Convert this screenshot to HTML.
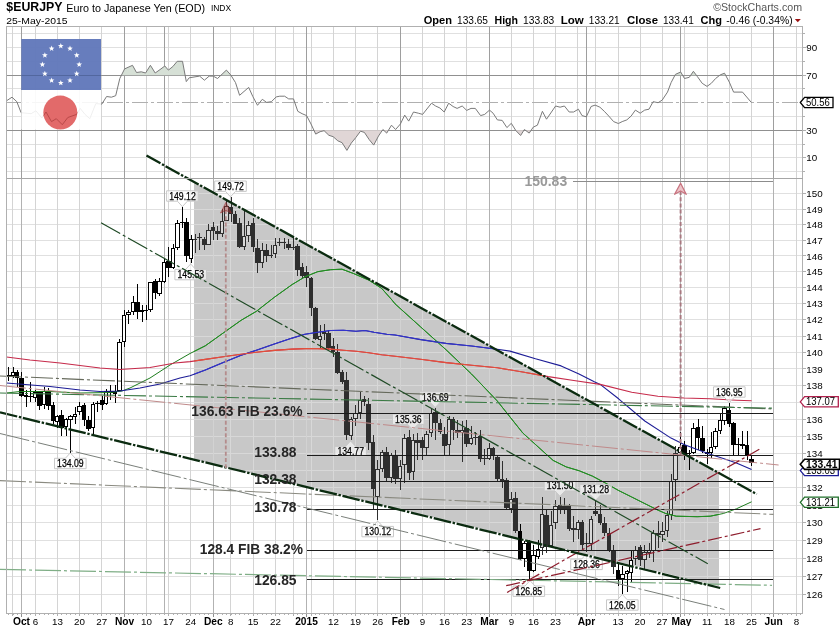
<!DOCTYPE html>
<html lang="en"><head><meta charset="utf-8"><title>$EURJPY Euro to Japanese Yen (EOD)</title>
<style>html,body{margin:0;padding:0;background:#fff;}body{width:840px;height:626px;overflow:hidden;}svg{display:block;font-family:"Liberation Sans", Arial, sans-serif;}text{white-space:pre;}</style></head><body>
<svg width="840" height="626" viewBox="0 0 840 626">
<rect x="0" y="0" width="840" height="626" fill="#ffffff"/>
<defs><clipPath id="cp"><polygon points="194.0,181.9 719.0,473.1 719.0,586.2 194.0,459.6"/></clipPath>
<clipPath id="plot"><rect x="0" y="27" width="803" height="587"/></clipPath></defs>
<g stroke-width="1" shape-rendering="crispEdges">
<line x1="6.5" y1="594.5" x2="802.5" y2="594.5" stroke="#e0e0e0"/>
<line x1="6.5" y1="576.5" x2="802.5" y2="576.5" stroke="#e0e0e0"/>
<line x1="6.5" y1="558.5" x2="802.5" y2="558.5" stroke="#e0e0e0"/>
<line x1="6.5" y1="540.5" x2="802.5" y2="540.5" stroke="#e0e0e0"/>
<line x1="6.5" y1="522.5" x2="802.5" y2="522.5" stroke="#e0e0e0"/>
<line x1="6.5" y1="505.5" x2="802.5" y2="505.5" stroke="#e0e0e0"/>
<line x1="6.5" y1="487.5" x2="802.5" y2="487.5" stroke="#e0e0e0"/>
<line x1="6.5" y1="470.5" x2="802.5" y2="470.5" stroke="#e0e0e0"/>
<line x1="6.5" y1="453.5" x2="802.5" y2="453.5" stroke="#e0e0e0"/>
<line x1="6.5" y1="436.5" x2="802.5" y2="436.5" stroke="#e0e0e0"/>
<line x1="6.5" y1="419.5" x2="802.5" y2="419.5" stroke="#e0e0e0"/>
<line x1="6.5" y1="402.5" x2="802.5" y2="402.5" stroke="#e0e0e0"/>
<line x1="6.5" y1="385.5" x2="802.5" y2="385.5" stroke="#e0e0e0"/>
<line x1="6.5" y1="368.5" x2="802.5" y2="368.5" stroke="#e0e0e0"/>
<line x1="6.5" y1="352.5" x2="802.5" y2="352.5" stroke="#e0e0e0"/>
<line x1="6.5" y1="336.5" x2="802.5" y2="336.5" stroke="#e0e0e0"/>
<line x1="6.5" y1="319.5" x2="802.5" y2="319.5" stroke="#e0e0e0"/>
<line x1="6.5" y1="303.5" x2="802.5" y2="303.5" stroke="#e0e0e0"/>
<line x1="6.5" y1="287.5" x2="802.5" y2="287.5" stroke="#e0e0e0"/>
<line x1="6.5" y1="271.5" x2="802.5" y2="271.5" stroke="#e0e0e0"/>
<line x1="6.5" y1="255.5" x2="802.5" y2="255.5" stroke="#e0e0e0"/>
<line x1="6.5" y1="240.5" x2="802.5" y2="240.5" stroke="#e0e0e0"/>
<line x1="6.5" y1="224.5" x2="802.5" y2="224.5" stroke="#e0e0e0"/>
<line x1="6.5" y1="209.5" x2="802.5" y2="209.5" stroke="#e0e0e0"/>
<line x1="6.5" y1="193.5" x2="802.5" y2="193.5" stroke="#e0e0e0"/>
<line x1="6.5" y1="47.5" x2="802.5" y2="47.5" stroke="#e0e0e0"/>
<line x1="6.5" y1="61.5" x2="802.5" y2="61.5" stroke="#e0e0e0"/>
<line x1="6.5" y1="88.5" x2="802.5" y2="88.5" stroke="#e0e0e0"/>
<line x1="6.5" y1="116.5" x2="802.5" y2="116.5" stroke="#e0e0e0"/>
<line x1="6.5" y1="144.5" x2="802.5" y2="144.5" stroke="#e0e0e0"/>
<line x1="6.5" y1="157.5" x2="802.5" y2="157.5" stroke="#e0e0e0"/>
<line x1="6.5" y1="171.5" x2="802.5" y2="171.5" stroke="#e0e0e0"/>
<line x1="6.5" y1="33.5" x2="802.5" y2="33.5" stroke="#e0e0e0"/>
<line x1="12.5" y1="26.5" x2="12.5" y2="613.5" stroke="#d4d4d4"/>
<line x1="35.5" y1="26.5" x2="35.5" y2="613.5" stroke="#d4d4d4"/>
<line x1="57.5" y1="26.5" x2="57.5" y2="613.5" stroke="#d4d4d4"/>
<line x1="79.5" y1="26.5" x2="79.5" y2="613.5" stroke="#d4d4d4"/>
<line x1="101.5" y1="26.5" x2="101.5" y2="613.5" stroke="#d4d4d4"/>
<line x1="146.5" y1="26.5" x2="146.5" y2="613.5" stroke="#d4d4d4"/>
<line x1="168.5" y1="26.5" x2="168.5" y2="613.5" stroke="#d4d4d4"/>
<line x1="190.5" y1="26.5" x2="190.5" y2="613.5" stroke="#d4d4d4"/>
<line x1="230.5" y1="26.5" x2="230.5" y2="613.5" stroke="#d4d4d4"/>
<line x1="253.5" y1="26.5" x2="253.5" y2="613.5" stroke="#d4d4d4"/>
<line x1="275.5" y1="26.5" x2="275.5" y2="613.5" stroke="#d4d4d4"/>
<line x1="293.5" y1="26.5" x2="293.5" y2="613.5" stroke="#d4d4d4"/>
<line x1="311.5" y1="26.5" x2="311.5" y2="613.5" stroke="#d4d4d4"/>
<line x1="333.5" y1="26.5" x2="333.5" y2="613.5" stroke="#d4d4d4"/>
<line x1="355.5" y1="26.5" x2="355.5" y2="613.5" stroke="#d4d4d4"/>
<line x1="377.5" y1="26.5" x2="377.5" y2="613.5" stroke="#d4d4d4"/>
<line x1="422.5" y1="26.5" x2="422.5" y2="613.5" stroke="#d4d4d4"/>
<line x1="444.5" y1="26.5" x2="444.5" y2="613.5" stroke="#d4d4d4"/>
<line x1="466.5" y1="26.5" x2="466.5" y2="613.5" stroke="#d4d4d4"/>
<line x1="511.5" y1="26.5" x2="511.5" y2="613.5" stroke="#d4d4d4"/>
<line x1="533.5" y1="26.5" x2="533.5" y2="613.5" stroke="#d4d4d4"/>
<line x1="555.5" y1="26.5" x2="555.5" y2="613.5" stroke="#d4d4d4"/>
<line x1="577.5" y1="26.5" x2="577.5" y2="613.5" stroke="#d4d4d4"/>
<line x1="595.5" y1="26.5" x2="595.5" y2="613.5" stroke="#d4d4d4"/>
<line x1="618.5" y1="26.5" x2="618.5" y2="613.5" stroke="#d4d4d4"/>
<line x1="640.5" y1="26.5" x2="640.5" y2="613.5" stroke="#d4d4d4"/>
<line x1="662.5" y1="26.5" x2="662.5" y2="613.5" stroke="#d4d4d4"/>
<line x1="684.5" y1="26.5" x2="684.5" y2="613.5" stroke="#d4d4d4"/>
<line x1="707.5" y1="26.5" x2="707.5" y2="613.5" stroke="#d4d4d4"/>
<line x1="729.5" y1="26.5" x2="729.5" y2="613.5" stroke="#d4d4d4"/>
<line x1="751.5" y1="26.5" x2="751.5" y2="613.5" stroke="#d4d4d4"/>
<line x1="796.5" y1="26.5" x2="796.5" y2="613.5" stroke="#d4d4d4"/>
<line x1="21.5" y1="26.5" x2="21.5" y2="178.5" stroke="#9e9e9e"/>
<line x1="21.5" y1="178.5" x2="21.5" y2="613.5" stroke="#b2b2b2"/>
<line x1="124.5" y1="26.5" x2="124.5" y2="178.5" stroke="#9e9e9e"/>
<line x1="124.5" y1="178.5" x2="124.5" y2="613.5" stroke="#b2b2b2"/>
<line x1="164.5" y1="26.5" x2="164.5" y2="178.5" stroke="#9e9e9e"/>
<line x1="164.5" y1="178.5" x2="164.5" y2="613.5" stroke="#b2b2b2"/>
<line x1="213.5" y1="26.5" x2="213.5" y2="178.5" stroke="#9e9e9e"/>
<line x1="213.5" y1="178.5" x2="213.5" y2="613.5" stroke="#b2b2b2"/>
<line x1="306.5" y1="26.5" x2="306.5" y2="178.5" stroke="#9e9e9e"/>
<line x1="306.5" y1="178.5" x2="306.5" y2="613.5" stroke="#b2b2b2"/>
<line x1="400.5" y1="26.5" x2="400.5" y2="178.5" stroke="#9e9e9e"/>
<line x1="400.5" y1="178.5" x2="400.5" y2="613.5" stroke="#b2b2b2"/>
<line x1="489.5" y1="26.5" x2="489.5" y2="178.5" stroke="#9e9e9e"/>
<line x1="489.5" y1="178.5" x2="489.5" y2="613.5" stroke="#b2b2b2"/>
<line x1="586.5" y1="26.5" x2="586.5" y2="178.5" stroke="#9e9e9e"/>
<line x1="586.5" y1="178.5" x2="586.5" y2="613.5" stroke="#b2b2b2"/>
<line x1="680.5" y1="26.5" x2="680.5" y2="178.5" stroke="#9e9e9e"/>
<line x1="680.5" y1="178.5" x2="680.5" y2="613.5" stroke="#b2b2b2"/>
<line x1="773.5" y1="26.5" x2="773.5" y2="178.5" stroke="#9e9e9e"/>
<line x1="773.5" y1="178.5" x2="773.5" y2="613.5" stroke="#b2b2b2"/>
</g>
<g stroke="#909090" stroke-width="1" shape-rendering="crispEdges">
<line x1="6.5" y1="75.5" x2="802.5" y2="75.5"/>
<line x1="6.5" y1="130.5" x2="802.5" y2="130.5"/>
</g>
<line x1="6.5" y1="102.5" x2="802.5" y2="102.5" stroke="#b0b0b0" stroke-width="1" stroke-dasharray="16 3 3 3" shape-rendering="crispEdges"/>
<polygon points="121.4,75.2 124.6,68.9 132.5,65.3 136.5,72.5 141.3,71.8 145.6,73.0 150.4,65.3 155.2,73.0 160.0,69.6 164.8,66.0 168.4,70.1 172.9,66.5 177.2,61.3 182.5,61.3 185.1,75.2" fill="#d6e0d6"/>
<polygon points="221.0,75.2 226.4,70.1 230.7,74.9 230.9,75.2" fill="#d6e0d6"/>
<polygon points="675.0,75.2 675.4,74.4 680.7,72.0 682.5,75.2" fill="#d6e0d6"/>
<polygon points="690.7,75.2 693.4,71.3 696.4,75.2" fill="#d6e0d6"/>
<polygon points="719.8,75.2 720.2,74.9 724.5,73.2 725.6,75.2" fill="#d6e0d6"/>
<polygon points="314.0,130.3 315.7,134.1 320.1,131.7 324.1,130.7 328.9,135.3 333.2,136.7 337.8,140.8 342.1,142.7 346.9,150.4 351.2,143.2 355.7,137.7 360.5,131.2 364.4,132.4 369.2,139.6 373.7,145.1 378.5,136.0 382.3,130.3" fill="#e0d6d6"/>
<polygon points="383.7,130.3 386.7,133.1 388.4,130.3" fill="#e0d6d6"/>
<polygon points="515.7,130.3 515.8,130.5 520.6,135.5 523.9,130.3" fill="#e0d6d6"/>
<polygon points="525.5,130.3 529.2,133.1 531.1,130.3" fill="#e0d6d6"/>
<polyline points="6.5,100.8 12.0,97.2 16.8,101.7 21.1,112.7 31.1,113.7 35.9,110.8 41.9,118.0 46.0,112.0 51.5,121.6 56.3,118.7 62.3,124.7 67.8,117.5 76.6,114.4 80.2,108.4 85.0,114.4 89.8,118.7 95.8,103.6 101.8,104.1 106.6,96.5 111.4,97.2 115.7,95.7 119.8,78.5 124.6,68.9 132.5,65.3 136.5,72.5 141.3,71.8 145.6,73.0 150.4,65.3 155.2,73.0 160.0,69.6 164.8,66.0 168.4,70.1 172.9,66.5 177.2,61.3 182.5,61.3 186.3,81.6 189.2,77.8 199.6,76.1 204.4,80.2 209.2,76.1 213.2,76.1 217.5,78.5 226.4,70.1 230.7,74.9 235.5,82.6 239.6,95.3 248.7,87.4 252.8,96.5 257.5,105.3 262.3,99.3 266.6,102.4 271.4,101.7 276.2,96.9 279.8,96.2 284.6,96.2 288.7,98.9 293.5,98.9 297.8,111.3 302.1,113.7 306.6,115.6 311.0,124.0 315.7,134.1 320.1,131.7 324.1,130.7 328.9,135.3 333.2,136.7 337.8,140.8 342.1,142.7 346.9,150.4 351.2,143.2 355.7,137.7 360.5,131.2 364.4,132.4 369.2,139.6 373.7,145.1 378.5,136.0 382.9,129.5 386.7,133.1 391.5,125.2 395.6,129.5 400.4,124.0 404.7,115.1 408.7,121.1 413.5,112.0 418.3,113.2 422.6,114.4 431.5,103.2 435.6,106.0 439.9,108.0 444.2,112.0 448.7,103.2 453.1,106.5 457.1,108.4 462.2,106.0 466.7,110.4 471.0,108.4 475.3,108.4 480.6,115.6 484.7,114.4 489.5,110.1 493.1,113.2 497.4,119.9 502.2,120.4 506.9,127.6 511.3,123.3 515.8,130.5 520.6,135.5 524.4,129.5 529.2,133.1 533.3,127.1 537.4,125.2 542.4,111.3 546.5,119.2 555.6,106.0 560.1,107.2 564.4,106.0 569.2,112.0 573.6,112.0 578.4,109.2 582.0,115.6 586.3,116.8 591.1,106.5 595.1,105.1 599.9,107.2 604.3,111.3 608.8,116.1 613.6,121.6 618.4,123.5 622.2,121.6 626.8,119.9 631.1,116.1 635.4,110.1 640.2,113.2 644.7,110.1 649.0,109.2 653.1,101.7 658.1,102.7 662.2,100.1 667.5,92.1 671.1,82.6 675.4,74.4 680.7,72.0 684.5,78.5 689.3,77.3 693.4,71.3 697.4,76.6 702.2,83.3 707.0,86.4 711.3,83.3 715.6,78.5 720.2,74.9 724.5,73.2 729.3,82.1 733.6,92.1 742.5,92.1 751.3,102.4" fill="none" stroke="#7a7a7a" stroke-width="1" stroke-linejoin="round"/>
<polygon points="194.0,181.9 719.0,473.1 719.0,586.2 194.0,459.6" fill="#c8c8c8"/>
<g clip-path="url(#cp)">
<g stroke-width="1" shape-rendering="crispEdges">
<line x1="6.5" y1="594.5" x2="802.5" y2="594.5" stroke="#d8d8d8"/>
<line x1="6.5" y1="576.5" x2="802.5" y2="576.5" stroke="#d8d8d8"/>
<line x1="6.5" y1="558.5" x2="802.5" y2="558.5" stroke="#d8d8d8"/>
<line x1="6.5" y1="540.5" x2="802.5" y2="540.5" stroke="#d8d8d8"/>
<line x1="6.5" y1="522.5" x2="802.5" y2="522.5" stroke="#d8d8d8"/>
<line x1="6.5" y1="505.5" x2="802.5" y2="505.5" stroke="#d8d8d8"/>
<line x1="6.5" y1="487.5" x2="802.5" y2="487.5" stroke="#d8d8d8"/>
<line x1="6.5" y1="470.5" x2="802.5" y2="470.5" stroke="#d8d8d8"/>
<line x1="6.5" y1="453.5" x2="802.5" y2="453.5" stroke="#d8d8d8"/>
<line x1="6.5" y1="436.5" x2="802.5" y2="436.5" stroke="#d8d8d8"/>
<line x1="6.5" y1="419.5" x2="802.5" y2="419.5" stroke="#d8d8d8"/>
<line x1="6.5" y1="402.5" x2="802.5" y2="402.5" stroke="#d8d8d8"/>
<line x1="6.5" y1="385.5" x2="802.5" y2="385.5" stroke="#d8d8d8"/>
<line x1="6.5" y1="368.5" x2="802.5" y2="368.5" stroke="#d8d8d8"/>
<line x1="6.5" y1="352.5" x2="802.5" y2="352.5" stroke="#d8d8d8"/>
<line x1="6.5" y1="336.5" x2="802.5" y2="336.5" stroke="#d8d8d8"/>
<line x1="6.5" y1="319.5" x2="802.5" y2="319.5" stroke="#d8d8d8"/>
<line x1="6.5" y1="303.5" x2="802.5" y2="303.5" stroke="#d8d8d8"/>
<line x1="6.5" y1="287.5" x2="802.5" y2="287.5" stroke="#d8d8d8"/>
<line x1="6.5" y1="271.5" x2="802.5" y2="271.5" stroke="#d8d8d8"/>
<line x1="6.5" y1="255.5" x2="802.5" y2="255.5" stroke="#d8d8d8"/>
<line x1="6.5" y1="240.5" x2="802.5" y2="240.5" stroke="#d8d8d8"/>
<line x1="6.5" y1="224.5" x2="802.5" y2="224.5" stroke="#d8d8d8"/>
<line x1="6.5" y1="209.5" x2="802.5" y2="209.5" stroke="#d8d8d8"/>
<line x1="6.5" y1="193.5" x2="802.5" y2="193.5" stroke="#d8d8d8"/>
<line x1="6.5" y1="47.5" x2="802.5" y2="47.5" stroke="#d8d8d8"/>
<line x1="6.5" y1="61.5" x2="802.5" y2="61.5" stroke="#d8d8d8"/>
<line x1="6.5" y1="88.5" x2="802.5" y2="88.5" stroke="#d8d8d8"/>
<line x1="6.5" y1="116.5" x2="802.5" y2="116.5" stroke="#d8d8d8"/>
<line x1="6.5" y1="144.5" x2="802.5" y2="144.5" stroke="#d8d8d8"/>
<line x1="6.5" y1="157.5" x2="802.5" y2="157.5" stroke="#d8d8d8"/>
<line x1="6.5" y1="171.5" x2="802.5" y2="171.5" stroke="#d8d8d8"/>
<line x1="6.5" y1="33.5" x2="802.5" y2="33.5" stroke="#d8d8d8"/>
<line x1="12.5" y1="26.5" x2="12.5" y2="613.5" stroke="#d8d8d8"/>
<line x1="35.5" y1="26.5" x2="35.5" y2="613.5" stroke="#d8d8d8"/>
<line x1="57.5" y1="26.5" x2="57.5" y2="613.5" stroke="#d8d8d8"/>
<line x1="79.5" y1="26.5" x2="79.5" y2="613.5" stroke="#d8d8d8"/>
<line x1="101.5" y1="26.5" x2="101.5" y2="613.5" stroke="#d8d8d8"/>
<line x1="146.5" y1="26.5" x2="146.5" y2="613.5" stroke="#d8d8d8"/>
<line x1="168.5" y1="26.5" x2="168.5" y2="613.5" stroke="#d8d8d8"/>
<line x1="190.5" y1="26.5" x2="190.5" y2="613.5" stroke="#d8d8d8"/>
<line x1="230.5" y1="26.5" x2="230.5" y2="613.5" stroke="#d8d8d8"/>
<line x1="253.5" y1="26.5" x2="253.5" y2="613.5" stroke="#d8d8d8"/>
<line x1="275.5" y1="26.5" x2="275.5" y2="613.5" stroke="#d8d8d8"/>
<line x1="293.5" y1="26.5" x2="293.5" y2="613.5" stroke="#d8d8d8"/>
<line x1="311.5" y1="26.5" x2="311.5" y2="613.5" stroke="#d8d8d8"/>
<line x1="333.5" y1="26.5" x2="333.5" y2="613.5" stroke="#d8d8d8"/>
<line x1="355.5" y1="26.5" x2="355.5" y2="613.5" stroke="#d8d8d8"/>
<line x1="377.5" y1="26.5" x2="377.5" y2="613.5" stroke="#d8d8d8"/>
<line x1="422.5" y1="26.5" x2="422.5" y2="613.5" stroke="#d8d8d8"/>
<line x1="444.5" y1="26.5" x2="444.5" y2="613.5" stroke="#d8d8d8"/>
<line x1="466.5" y1="26.5" x2="466.5" y2="613.5" stroke="#d8d8d8"/>
<line x1="511.5" y1="26.5" x2="511.5" y2="613.5" stroke="#d8d8d8"/>
<line x1="533.5" y1="26.5" x2="533.5" y2="613.5" stroke="#d8d8d8"/>
<line x1="555.5" y1="26.5" x2="555.5" y2="613.5" stroke="#d8d8d8"/>
<line x1="577.5" y1="26.5" x2="577.5" y2="613.5" stroke="#d8d8d8"/>
<line x1="595.5" y1="26.5" x2="595.5" y2="613.5" stroke="#d8d8d8"/>
<line x1="618.5" y1="26.5" x2="618.5" y2="613.5" stroke="#d8d8d8"/>
<line x1="640.5" y1="26.5" x2="640.5" y2="613.5" stroke="#d8d8d8"/>
<line x1="662.5" y1="26.5" x2="662.5" y2="613.5" stroke="#d8d8d8"/>
<line x1="684.5" y1="26.5" x2="684.5" y2="613.5" stroke="#d8d8d8"/>
<line x1="707.5" y1="26.5" x2="707.5" y2="613.5" stroke="#d8d8d8"/>
<line x1="729.5" y1="26.5" x2="729.5" y2="613.5" stroke="#d8d8d8"/>
<line x1="751.5" y1="26.5" x2="751.5" y2="613.5" stroke="#d8d8d8"/>
<line x1="796.5" y1="26.5" x2="796.5" y2="613.5" stroke="#d8d8d8"/>
<line x1="21.5" y1="26.5" x2="21.5" y2="613.5" stroke="#d2d2d2"/>
<line x1="124.5" y1="26.5" x2="124.5" y2="613.5" stroke="#d2d2d2"/>
<line x1="164.5" y1="26.5" x2="164.5" y2="613.5" stroke="#d2d2d2"/>
<line x1="213.5" y1="26.5" x2="213.5" y2="613.5" stroke="#d2d2d2"/>
<line x1="306.5" y1="26.5" x2="306.5" y2="613.5" stroke="#d2d2d2"/>
<line x1="400.5" y1="26.5" x2="400.5" y2="613.5" stroke="#d2d2d2"/>
<line x1="489.5" y1="26.5" x2="489.5" y2="613.5" stroke="#d2d2d2"/>
<line x1="586.5" y1="26.5" x2="586.5" y2="613.5" stroke="#d2d2d2"/>
<line x1="680.5" y1="26.5" x2="680.5" y2="613.5" stroke="#d2d2d2"/>
<line x1="773.5" y1="26.5" x2="773.5" y2="613.5" stroke="#d2d2d2"/>
</g>
</g>
<g shape-rendering="crispEdges">
<line x1="8.5" y1="367" x2="8.5" y2="381" stroke="#000000" stroke-width="1"/>
<rect x="6" y="375" width="5" height="2" fill="#000000"/>
<line x1="13.5" y1="367" x2="13.5" y2="378" stroke="#000000" stroke-width="1"/>
<rect x="11" y="372" width="4" height="4" fill="#000000"/>
<rect x="12" y="373" width="2" height="2" fill="#ffffff"/>
<line x1="17.5" y1="370" x2="17.5" y2="387" stroke="#000000" stroke-width="1"/>
<rect x="15" y="372" width="4" height="6" fill="#000000"/>
<line x1="21.5" y1="372" x2="21.5" y2="397" stroke="#000000" stroke-width="1"/>
<rect x="19" y="378" width="5" height="18" fill="#000000"/>
<line x1="26.5" y1="390" x2="26.5" y2="407" stroke="#000000" stroke-width="1"/>
<rect x="24" y="395" width="4" height="2" fill="#000000"/>
<line x1="30.5" y1="382" x2="30.5" y2="402" stroke="#000000" stroke-width="1"/>
<rect x="28" y="396" width="5" height="1" fill="#000000"/>
<line x1="35.5" y1="390" x2="35.5" y2="402" stroke="#000000" stroke-width="1"/>
<rect x="33" y="392" width="4" height="6" fill="#000000"/>
<rect x="34" y="393" width="2" height="4" fill="#ffffff"/>
<line x1="39.5" y1="391" x2="39.5" y2="410" stroke="#000000" stroke-width="1"/>
<rect x="37" y="392" width="5" height="14" fill="#000000"/>
<line x1="44.5" y1="387" x2="44.5" y2="409" stroke="#000000" stroke-width="1"/>
<rect x="42" y="391" width="4" height="14" fill="#000000"/>
<rect x="43" y="392" width="2" height="12" fill="#ffffff"/>
<line x1="48.5" y1="388" x2="48.5" y2="410" stroke="#000000" stroke-width="1"/>
<rect x="46" y="391" width="5" height="15" fill="#000000"/>
<line x1="53.5" y1="402" x2="53.5" y2="424" stroke="#000000" stroke-width="1"/>
<rect x="51" y="405" width="4" height="16" fill="#000000"/>
<line x1="57.5" y1="415" x2="57.5" y2="428" stroke="#000000" stroke-width="1"/>
<rect x="55" y="416" width="4" height="6" fill="#000000"/>
<rect x="56" y="417" width="2" height="4" fill="#ffffff"/>
<line x1="61.5" y1="410" x2="61.5" y2="436" stroke="#000000" stroke-width="1"/>
<rect x="59" y="415" width="5" height="13" fill="#000000"/>
<line x1="66.5" y1="418" x2="66.5" y2="436" stroke="#000000" stroke-width="1"/>
<rect x="64" y="419" width="4" height="8" fill="#000000"/>
<rect x="65" y="420" width="2" height="6" fill="#ffffff"/>
<line x1="70.5" y1="415" x2="70.5" y2="453" stroke="#000000" stroke-width="1"/>
<rect x="68" y="416" width="5" height="4" fill="#000000"/>
<rect x="69" y="417" width="3" height="2" fill="#ffffff"/>
<line x1="75.5" y1="407" x2="75.5" y2="424" stroke="#000000" stroke-width="1"/>
<rect x="73" y="414" width="4" height="3" fill="#000000"/>
<rect x="74" y="415" width="2" height="1" fill="#ffffff"/>
<line x1="79.5" y1="402" x2="79.5" y2="415" stroke="#000000" stroke-width="1"/>
<rect x="77" y="406" width="5" height="6" fill="#000000"/>
<rect x="78" y="407" width="3" height="4" fill="#ffffff"/>
<line x1="84.5" y1="403" x2="84.5" y2="426" stroke="#000000" stroke-width="1"/>
<rect x="82" y="405" width="4" height="15" fill="#000000"/>
<line x1="88.5" y1="416" x2="88.5" y2="431" stroke="#000000" stroke-width="1"/>
<rect x="86" y="420" width="5" height="9" fill="#000000"/>
<line x1="93.5" y1="402" x2="93.5" y2="435" stroke="#000000" stroke-width="1"/>
<rect x="91" y="404" width="4" height="24" fill="#000000"/>
<rect x="92" y="405" width="2" height="22" fill="#ffffff"/>
<line x1="97.5" y1="401" x2="97.5" y2="412" stroke="#000000" stroke-width="1"/>
<rect x="95" y="403" width="5" height="1" fill="#000000"/>
<line x1="102.5" y1="396" x2="102.5" y2="410" stroke="#000000" stroke-width="1"/>
<rect x="100" y="400" width="4" height="5" fill="#000000"/>
<line x1="106.5" y1="389" x2="106.5" y2="405" stroke="#000000" stroke-width="1"/>
<rect x="104" y="391" width="4" height="13" fill="#000000"/>
<rect x="105" y="392" width="2" height="11" fill="#ffffff"/>
<line x1="110.5" y1="385" x2="110.5" y2="400" stroke="#000000" stroke-width="1"/>
<rect x="108" y="391" width="5" height="2" fill="#000000"/>
<line x1="115.5" y1="385" x2="115.5" y2="403" stroke="#000000" stroke-width="1"/>
<rect x="113" y="391" width="4" height="3" fill="#000000"/>
<line x1="119.5" y1="339" x2="119.5" y2="391" stroke="#000000" stroke-width="1"/>
<rect x="117" y="342" width="5" height="49" fill="#000000"/>
<rect x="118" y="343" width="3" height="47" fill="#ffffff"/>
<line x1="124.5" y1="310" x2="124.5" y2="347" stroke="#000000" stroke-width="1"/>
<rect x="122" y="315" width="4" height="27" fill="#000000"/>
<rect x="123" y="316" width="2" height="25" fill="#ffffff"/>
<line x1="128.5" y1="310" x2="128.5" y2="324" stroke="#000000" stroke-width="1"/>
<rect x="126" y="312" width="5" height="3" fill="#000000"/>
<rect x="127" y="313" width="3" height="1" fill="#ffffff"/>
<line x1="133.5" y1="296" x2="133.5" y2="315" stroke="#000000" stroke-width="1"/>
<rect x="131" y="302" width="4" height="10" fill="#000000"/>
<rect x="132" y="303" width="2" height="8" fill="#ffffff"/>
<line x1="137.5" y1="284" x2="137.5" y2="319" stroke="#000000" stroke-width="1"/>
<rect x="135" y="302" width="5" height="10" fill="#000000"/>
<line x1="142.5" y1="305" x2="142.5" y2="322" stroke="#000000" stroke-width="1"/>
<rect x="140" y="310" width="4" height="2" fill="#000000"/>
<line x1="146.5" y1="305" x2="146.5" y2="320" stroke="#000000" stroke-width="1"/>
<rect x="144" y="310" width="4" height="1" fill="#000000"/>
<line x1="150.5" y1="282" x2="150.5" y2="312" stroke="#000000" stroke-width="1"/>
<rect x="148" y="282" width="5" height="28" fill="#000000"/>
<rect x="149" y="283" width="3" height="26" fill="#ffffff"/>
<line x1="155.5" y1="279" x2="155.5" y2="299" stroke="#000000" stroke-width="1"/>
<rect x="153" y="281" width="4" height="12" fill="#000000"/>
<line x1="159.5" y1="278" x2="159.5" y2="296" stroke="#000000" stroke-width="1"/>
<rect x="157" y="281" width="5" height="13" fill="#000000"/>
<rect x="158" y="282" width="3" height="11" fill="#ffffff"/>
<line x1="164.5" y1="258" x2="164.5" y2="283" stroke="#000000" stroke-width="1"/>
<rect x="162" y="262" width="4" height="20" fill="#000000"/>
<rect x="163" y="263" width="2" height="18" fill="#ffffff"/>
<line x1="168.5" y1="247" x2="168.5" y2="277" stroke="#000000" stroke-width="1"/>
<rect x="166" y="261" width="5" height="7" fill="#000000"/>
<line x1="173.5" y1="244" x2="173.5" y2="269" stroke="#000000" stroke-width="1"/>
<rect x="171" y="248" width="4" height="20" fill="#000000"/>
<rect x="172" y="249" width="2" height="18" fill="#ffffff"/>
<line x1="177.5" y1="220" x2="177.5" y2="250" stroke="#000000" stroke-width="1"/>
<rect x="175" y="223" width="5" height="25" fill="#000000"/>
<rect x="176" y="224" width="3" height="23" fill="#ffffff"/>
<line x1="182.5" y1="207" x2="182.5" y2="228" stroke="#000000" stroke-width="1"/>
<rect x="180" y="222" width="4" height="1" fill="#000000"/>
<line x1="186.5" y1="218" x2="186.5" y2="262" stroke="#000000" stroke-width="1"/>
<rect x="184" y="222" width="5" height="34" fill="#000000"/>
<line x1="191.5" y1="235" x2="191.5" y2="263" stroke="#000000" stroke-width="1"/>
<rect x="189" y="239" width="4" height="20" fill="#000000"/>
<rect x="190" y="240" width="2" height="18" fill="#ffffff"/>
<line x1="195.5" y1="234" x2="195.5" y2="253" stroke="#2e2e2e" stroke-width="1"/>
<rect x="193" y="239" width="4" height="1" fill="#2e2e2e"/>
<line x1="199.5" y1="233" x2="199.5" y2="250" stroke="#2e2e2e" stroke-width="1"/>
<rect x="197" y="237" width="5" height="1" fill="#2e2e2e"/>
<line x1="204.5" y1="237" x2="204.5" y2="250" stroke="#2e2e2e" stroke-width="1"/>
<rect x="202" y="239" width="4" height="6" fill="#2e2e2e"/>
<line x1="208.5" y1="224" x2="208.5" y2="245" stroke="#2e2e2e" stroke-width="1"/>
<rect x="206" y="230" width="5" height="15" fill="#2e2e2e"/>
<rect x="207" y="231" width="3" height="13" fill="#d8d8d8"/>
<line x1="213.5" y1="222" x2="213.5" y2="240" stroke="#2e2e2e" stroke-width="1"/>
<rect x="211" y="227" width="4" height="4" fill="#2e2e2e"/>
<line x1="217.5" y1="226" x2="217.5" y2="240" stroke="#2e2e2e" stroke-width="1"/>
<rect x="215" y="231" width="5" height="3" fill="#2e2e2e"/>
<line x1="222.5" y1="209" x2="222.5" y2="237" stroke="#2e2e2e" stroke-width="1"/>
<rect x="220" y="221" width="4" height="13" fill="#2e2e2e"/>
<rect x="221" y="222" width="2" height="11" fill="#d8d8d8"/>
<line x1="226.5" y1="201" x2="226.5" y2="221" stroke="#2e2e2e" stroke-width="1"/>
<rect x="224" y="206" width="5" height="15" fill="#2e2e2e"/>
<rect x="225" y="207" width="3" height="13" fill="#d8d8d8"/>
<line x1="231.5" y1="197" x2="231.5" y2="222" stroke="#2e2e2e" stroke-width="1"/>
<rect x="229" y="207" width="4" height="7" fill="#2e2e2e"/>
<line x1="235.5" y1="211" x2="235.5" y2="224" stroke="#2e2e2e" stroke-width="1"/>
<rect x="233" y="214" width="4" height="10" fill="#2e2e2e"/>
<line x1="239.5" y1="218" x2="239.5" y2="248" stroke="#2e2e2e" stroke-width="1"/>
<rect x="237" y="223" width="5" height="24" fill="#2e2e2e"/>
<line x1="244.5" y1="210" x2="244.5" y2="250" stroke="#2e2e2e" stroke-width="1"/>
<rect x="242" y="236" width="4" height="11" fill="#2e2e2e"/>
<rect x="243" y="237" width="2" height="9" fill="#d8d8d8"/>
<line x1="248.5" y1="221" x2="248.5" y2="242" stroke="#2e2e2e" stroke-width="1"/>
<rect x="246" y="225" width="5" height="11" fill="#2e2e2e"/>
<rect x="247" y="226" width="3" height="9" fill="#d8d8d8"/>
<line x1="253.5" y1="218" x2="253.5" y2="252" stroke="#2e2e2e" stroke-width="1"/>
<rect x="251" y="223" width="4" height="24" fill="#2e2e2e"/>
<line x1="257.5" y1="239" x2="257.5" y2="273" stroke="#2e2e2e" stroke-width="1"/>
<rect x="255" y="248" width="5" height="15" fill="#2e2e2e"/>
<line x1="262.5" y1="243" x2="262.5" y2="268" stroke="#2e2e2e" stroke-width="1"/>
<rect x="260" y="250" width="4" height="13" fill="#2e2e2e"/>
<rect x="261" y="251" width="2" height="11" fill="#d8d8d8"/>
<line x1="266.5" y1="244" x2="266.5" y2="262" stroke="#2e2e2e" stroke-width="1"/>
<rect x="264" y="250" width="5" height="6" fill="#2e2e2e"/>
<line x1="271.5" y1="245" x2="271.5" y2="258" stroke="#2e2e2e" stroke-width="1"/>
<rect x="269" y="255" width="4" height="1" fill="#2e2e2e"/>
<line x1="275.5" y1="238" x2="275.5" y2="258" stroke="#2e2e2e" stroke-width="1"/>
<rect x="273" y="245" width="4" height="9" fill="#2e2e2e"/>
<rect x="274" y="246" width="2" height="7" fill="#d8d8d8"/>
<line x1="279.5" y1="238" x2="279.5" y2="246" stroke="#2e2e2e" stroke-width="1"/>
<rect x="277" y="242" width="5" height="1" fill="#2e2e2e"/>
<line x1="284.5" y1="238" x2="284.5" y2="249" stroke="#2e2e2e" stroke-width="1"/>
<rect x="282" y="242" width="4" height="1" fill="#2e2e2e"/>
<line x1="288.5" y1="239" x2="288.5" y2="250" stroke="#2e2e2e" stroke-width="1"/>
<rect x="286" y="244" width="5" height="4" fill="#2e2e2e"/>
<line x1="293.5" y1="237" x2="293.5" y2="250" stroke="#2e2e2e" stroke-width="1"/>
<rect x="291" y="247" width="4" height="1" fill="#2e2e2e"/>
<line x1="297.5" y1="244" x2="297.5" y2="276" stroke="#2e2e2e" stroke-width="1"/>
<rect x="295" y="246" width="5" height="24" fill="#2e2e2e"/>
<line x1="302.5" y1="263" x2="302.5" y2="278" stroke="#2e2e2e" stroke-width="1"/>
<rect x="300" y="267" width="4" height="9" fill="#2e2e2e"/>
<line x1="306.5" y1="266" x2="306.5" y2="287" stroke="#2e2e2e" stroke-width="1"/>
<rect x="304" y="272" width="5" height="6" fill="#2e2e2e"/>
<line x1="311.5" y1="277" x2="311.5" y2="316" stroke="#2e2e2e" stroke-width="1"/>
<rect x="309" y="278" width="4" height="30" fill="#2e2e2e"/>
<line x1="315.5" y1="307" x2="315.5" y2="340" stroke="#2e2e2e" stroke-width="1"/>
<rect x="313" y="308" width="5" height="31" fill="#2e2e2e"/>
<line x1="320.5" y1="325" x2="320.5" y2="348" stroke="#2e2e2e" stroke-width="1"/>
<rect x="318" y="336" width="4" height="4" fill="#2e2e2e"/>
<rect x="319" y="337" width="2" height="2" fill="#d8d8d8"/>
<line x1="324.5" y1="324" x2="324.5" y2="340" stroke="#2e2e2e" stroke-width="1"/>
<rect x="322" y="331" width="4" height="3" fill="#2e2e2e"/>
<line x1="328.5" y1="330" x2="328.5" y2="350" stroke="#2e2e2e" stroke-width="1"/>
<rect x="326" y="333" width="5" height="15" fill="#2e2e2e"/>
<line x1="333.5" y1="338" x2="333.5" y2="357" stroke="#2e2e2e" stroke-width="1"/>
<rect x="331" y="346" width="4" height="6" fill="#2e2e2e"/>
<line x1="337.5" y1="344" x2="337.5" y2="374" stroke="#2e2e2e" stroke-width="1"/>
<rect x="335" y="352" width="5" height="21" fill="#2e2e2e"/>
<line x1="342.5" y1="370" x2="342.5" y2="384" stroke="#2e2e2e" stroke-width="1"/>
<rect x="340" y="372" width="4" height="10" fill="#2e2e2e"/>
<line x1="346.5" y1="372" x2="346.5" y2="440" stroke="#2e2e2e" stroke-width="1"/>
<rect x="344" y="380" width="5" height="55" fill="#2e2e2e"/>
<line x1="351.5" y1="417" x2="351.5" y2="440" stroke="#2e2e2e" stroke-width="1"/>
<rect x="349" y="419" width="4" height="17" fill="#2e2e2e"/>
<rect x="350" y="420" width="2" height="15" fill="#d8d8d8"/>
<line x1="355.5" y1="405" x2="355.5" y2="426" stroke="#2e2e2e" stroke-width="1"/>
<rect x="353" y="413" width="5" height="6" fill="#2e2e2e"/>
<rect x="354" y="414" width="3" height="4" fill="#d8d8d8"/>
<line x1="360.5" y1="392" x2="360.5" y2="419" stroke="#2e2e2e" stroke-width="1"/>
<rect x="358" y="400" width="4" height="13" fill="#2e2e2e"/>
<rect x="359" y="401" width="2" height="11" fill="#d8d8d8"/>
<line x1="364.5" y1="396" x2="364.5" y2="406" stroke="#2e2e2e" stroke-width="1"/>
<rect x="362" y="399" width="4" height="3" fill="#2e2e2e"/>
<line x1="368.5" y1="398" x2="368.5" y2="450" stroke="#2e2e2e" stroke-width="1"/>
<rect x="366" y="404" width="5" height="39" fill="#2e2e2e"/>
<line x1="373.5" y1="435" x2="373.5" y2="509" stroke="#2e2e2e" stroke-width="1"/>
<rect x="371" y="442" width="4" height="47" fill="#2e2e2e"/>
<line x1="377.5" y1="460" x2="377.5" y2="520" stroke="#2e2e2e" stroke-width="1"/>
<rect x="375" y="469" width="5" height="28" fill="#2e2e2e"/>
<rect x="376" y="470" width="3" height="26" fill="#d8d8d8"/>
<line x1="382.5" y1="450" x2="382.5" y2="472" stroke="#2e2e2e" stroke-width="1"/>
<rect x="380" y="452" width="4" height="17" fill="#2e2e2e"/>
<rect x="381" y="453" width="2" height="15" fill="#d8d8d8"/>
<line x1="386.5" y1="447" x2="386.5" y2="481" stroke="#2e2e2e" stroke-width="1"/>
<rect x="384" y="452" width="5" height="26" fill="#2e2e2e"/>
<line x1="391.5" y1="453" x2="391.5" y2="483" stroke="#2e2e2e" stroke-width="1"/>
<rect x="389" y="455" width="4" height="23" fill="#2e2e2e"/>
<rect x="390" y="456" width="2" height="21" fill="#d8d8d8"/>
<line x1="395.5" y1="450" x2="395.5" y2="484" stroke="#2e2e2e" stroke-width="1"/>
<rect x="393" y="455" width="5" height="24" fill="#2e2e2e"/>
<line x1="400.5" y1="460" x2="400.5" y2="490" stroke="#2e2e2e" stroke-width="1"/>
<rect x="398" y="466" width="4" height="13" fill="#2e2e2e"/>
<rect x="399" y="467" width="2" height="11" fill="#d8d8d8"/>
<line x1="404.5" y1="434" x2="404.5" y2="483" stroke="#2e2e2e" stroke-width="1"/>
<rect x="402" y="438" width="5" height="27" fill="#2e2e2e"/>
<rect x="403" y="439" width="3" height="25" fill="#d8d8d8"/>
<line x1="409.5" y1="430" x2="409.5" y2="480" stroke="#2e2e2e" stroke-width="1"/>
<rect x="407" y="437" width="4" height="36" fill="#2e2e2e"/>
<line x1="413.5" y1="434" x2="413.5" y2="480" stroke="#2e2e2e" stroke-width="1"/>
<rect x="411" y="440" width="4" height="32" fill="#2e2e2e"/>
<rect x="412" y="441" width="2" height="30" fill="#d8d8d8"/>
<line x1="417.5" y1="433" x2="417.5" y2="460" stroke="#2e2e2e" stroke-width="1"/>
<rect x="415" y="440" width="5" height="3" fill="#2e2e2e"/>
<line x1="422.5" y1="437" x2="422.5" y2="460" stroke="#2e2e2e" stroke-width="1"/>
<rect x="420" y="440" width="4" height="8" fill="#2e2e2e"/>
<line x1="426.5" y1="431" x2="426.5" y2="455" stroke="#2e2e2e" stroke-width="1"/>
<rect x="424" y="434" width="5" height="14" fill="#2e2e2e"/>
<rect x="425" y="435" width="3" height="12" fill="#d8d8d8"/>
<line x1="431.5" y1="409" x2="431.5" y2="437" stroke="#2e2e2e" stroke-width="1"/>
<rect x="429" y="413" width="4" height="20" fill="#2e2e2e"/>
<rect x="430" y="414" width="2" height="18" fill="#d8d8d8"/>
<line x1="435.5" y1="408" x2="435.5" y2="440" stroke="#2e2e2e" stroke-width="1"/>
<rect x="433" y="412" width="5" height="11" fill="#2e2e2e"/>
<line x1="440.5" y1="419" x2="440.5" y2="434" stroke="#2e2e2e" stroke-width="1"/>
<rect x="438" y="423" width="4" height="9" fill="#2e2e2e"/>
<line x1="444.5" y1="427" x2="444.5" y2="455" stroke="#2e2e2e" stroke-width="1"/>
<rect x="442" y="434" width="5" height="12" fill="#2e2e2e"/>
<line x1="449.5" y1="416" x2="449.5" y2="455" stroke="#2e2e2e" stroke-width="1"/>
<rect x="447" y="419" width="4" height="26" fill="#2e2e2e"/>
<rect x="448" y="420" width="2" height="24" fill="#d8d8d8"/>
<line x1="453.5" y1="417" x2="453.5" y2="440" stroke="#2e2e2e" stroke-width="1"/>
<rect x="451" y="419" width="4" height="11" fill="#2e2e2e"/>
<line x1="457.5" y1="420" x2="457.5" y2="438" stroke="#2e2e2e" stroke-width="1"/>
<rect x="455" y="430" width="5" height="3" fill="#2e2e2e"/>
<line x1="462.5" y1="421" x2="462.5" y2="462" stroke="#2e2e2e" stroke-width="1"/>
<rect x="460" y="430" width="4" height="3" fill="#2e2e2e"/>
<rect x="461" y="431" width="2" height="1" fill="#d8d8d8"/>
<line x1="466.5" y1="420" x2="466.5" y2="447" stroke="#2e2e2e" stroke-width="1"/>
<rect x="464" y="428" width="5" height="16" fill="#2e2e2e"/>
<line x1="471.5" y1="426" x2="471.5" y2="445" stroke="#2e2e2e" stroke-width="1"/>
<rect x="469" y="438" width="4" height="6" fill="#2e2e2e"/>
<rect x="470" y="439" width="2" height="4" fill="#d8d8d8"/>
<line x1="475.5" y1="432" x2="475.5" y2="445" stroke="#2e2e2e" stroke-width="1"/>
<rect x="473" y="437" width="5" height="1" fill="#2e2e2e"/>
<line x1="480.5" y1="430" x2="480.5" y2="462" stroke="#2e2e2e" stroke-width="1"/>
<rect x="478" y="436" width="4" height="23" fill="#2e2e2e"/>
<line x1="484.5" y1="449" x2="484.5" y2="465" stroke="#2e2e2e" stroke-width="1"/>
<rect x="482" y="458" width="5" height="1" fill="#2e2e2e"/>
<line x1="489.5" y1="443" x2="489.5" y2="460" stroke="#2e2e2e" stroke-width="1"/>
<rect x="487" y="448" width="4" height="11" fill="#2e2e2e"/>
<rect x="488" y="449" width="2" height="9" fill="#d8d8d8"/>
<line x1="493.5" y1="447" x2="493.5" y2="460" stroke="#2e2e2e" stroke-width="1"/>
<rect x="491" y="448" width="4" height="8" fill="#2e2e2e"/>
<line x1="497.5" y1="455" x2="497.5" y2="482" stroke="#2e2e2e" stroke-width="1"/>
<rect x="495" y="457" width="5" height="22" fill="#2e2e2e"/>
<line x1="502.5" y1="461" x2="502.5" y2="488" stroke="#2e2e2e" stroke-width="1"/>
<rect x="500" y="479" width="4" height="2" fill="#2e2e2e"/>
<line x1="506.5" y1="478" x2="506.5" y2="509" stroke="#2e2e2e" stroke-width="1"/>
<rect x="504" y="480" width="5" height="28" fill="#2e2e2e"/>
<line x1="511.5" y1="492" x2="511.5" y2="513" stroke="#2e2e2e" stroke-width="1"/>
<rect x="509" y="499" width="4" height="10" fill="#2e2e2e"/>
<rect x="510" y="500" width="2" height="8" fill="#d8d8d8"/>
<line x1="515.5" y1="492" x2="515.5" y2="533" stroke="#2e2e2e" stroke-width="1"/>
<rect x="513" y="498" width="5" height="33" fill="#2e2e2e"/>
<line x1="520.5" y1="524" x2="520.5" y2="560" stroke="#000000" stroke-width="1"/>
<rect x="518" y="531" width="4" height="28" fill="#000000"/>
<line x1="524.5" y1="541" x2="524.5" y2="567" stroke="#000000" stroke-width="1"/>
<rect x="522" y="543" width="5" height="16" fill="#000000"/>
<rect x="523" y="544" width="3" height="14" fill="#ffffff"/>
<line x1="529.5" y1="540" x2="529.5" y2="579" stroke="#000000" stroke-width="1"/>
<rect x="527" y="542" width="4" height="29" fill="#000000"/>
<line x1="533.5" y1="545" x2="533.5" y2="572" stroke="#000000" stroke-width="1"/>
<rect x="531" y="555" width="5" height="16" fill="#000000"/>
<rect x="532" y="556" width="3" height="14" fill="#ffffff"/>
<line x1="538.5" y1="540" x2="538.5" y2="559" stroke="#000000" stroke-width="1"/>
<rect x="536" y="549" width="4" height="8" fill="#000000"/>
<rect x="537" y="550" width="2" height="6" fill="#ffffff"/>
<line x1="542.5" y1="497" x2="542.5" y2="555" stroke="#2e2e2e" stroke-width="1"/>
<rect x="540" y="514" width="4" height="34" fill="#2e2e2e"/>
<rect x="541" y="515" width="2" height="32" fill="#d8d8d8"/>
<line x1="546.5" y1="510" x2="546.5" y2="553" stroke="#2e2e2e" stroke-width="1"/>
<rect x="544" y="515" width="5" height="32" fill="#2e2e2e"/>
<line x1="551.5" y1="511" x2="551.5" y2="547" stroke="#2e2e2e" stroke-width="1"/>
<rect x="549" y="525" width="4" height="21" fill="#2e2e2e"/>
<rect x="550" y="526" width="2" height="19" fill="#d8d8d8"/>
<line x1="555.5" y1="500" x2="555.5" y2="529" stroke="#2e2e2e" stroke-width="1"/>
<rect x="553" y="506" width="5" height="17" fill="#2e2e2e"/>
<rect x="554" y="507" width="3" height="15" fill="#d8d8d8"/>
<line x1="560.5" y1="497" x2="560.5" y2="514" stroke="#2e2e2e" stroke-width="1"/>
<rect x="558" y="505" width="4" height="5" fill="#2e2e2e"/>
<line x1="564.5" y1="498" x2="564.5" y2="514" stroke="#2e2e2e" stroke-width="1"/>
<rect x="562" y="506" width="5" height="3" fill="#2e2e2e"/>
<line x1="569.5" y1="504" x2="569.5" y2="531" stroke="#2e2e2e" stroke-width="1"/>
<rect x="567" y="506" width="4" height="23" fill="#2e2e2e"/>
<line x1="573.5" y1="516" x2="573.5" y2="542" stroke="#2e2e2e" stroke-width="1"/>
<rect x="571" y="528" width="5" height="2" fill="#2e2e2e"/>
<line x1="578.5" y1="520" x2="578.5" y2="539" stroke="#2e2e2e" stroke-width="1"/>
<rect x="576" y="522" width="4" height="8" fill="#2e2e2e"/>
<rect x="577" y="523" width="2" height="6" fill="#d8d8d8"/>
<line x1="582.5" y1="520" x2="582.5" y2="549" stroke="#2e2e2e" stroke-width="1"/>
<rect x="580" y="522" width="4" height="23" fill="#2e2e2e"/>
<line x1="586.5" y1="533" x2="586.5" y2="552" stroke="#2e2e2e" stroke-width="1"/>
<rect x="584" y="543" width="5" height="1" fill="#2e2e2e"/>
<line x1="591.5" y1="516" x2="591.5" y2="551" stroke="#2e2e2e" stroke-width="1"/>
<rect x="589" y="519" width="4" height="25" fill="#2e2e2e"/>
<rect x="590" y="520" width="2" height="23" fill="#d8d8d8"/>
<line x1="595.5" y1="500" x2="595.5" y2="516" stroke="#2e2e2e" stroke-width="1"/>
<rect x="593" y="511" width="5" height="3" fill="#2e2e2e"/>
<line x1="600.5" y1="505" x2="600.5" y2="525" stroke="#2e2e2e" stroke-width="1"/>
<rect x="598" y="514" width="4" height="9" fill="#2e2e2e"/>
<line x1="604.5" y1="517" x2="604.5" y2="536" stroke="#2e2e2e" stroke-width="1"/>
<rect x="602" y="523" width="5" height="10" fill="#2e2e2e"/>
<line x1="609.5" y1="528" x2="609.5" y2="552" stroke="#2e2e2e" stroke-width="1"/>
<rect x="607" y="533" width="4" height="18" fill="#2e2e2e"/>
<line x1="613.5" y1="545" x2="613.5" y2="574" stroke="#2e2e2e" stroke-width="1"/>
<rect x="611" y="551" width="5" height="16" fill="#2e2e2e"/>
<line x1="618.5" y1="564" x2="618.5" y2="586" stroke="#000000" stroke-width="1"/>
<rect x="616" y="570" width="4" height="9" fill="#000000"/>
<line x1="622.5" y1="566" x2="622.5" y2="594" stroke="#000000" stroke-width="1"/>
<rect x="620" y="574" width="5" height="5" fill="#000000"/>
<rect x="621" y="575" width="3" height="3" fill="#ffffff"/>
<line x1="627.5" y1="570" x2="627.5" y2="592" stroke="#000000" stroke-width="1"/>
<rect x="625" y="571" width="4" height="3" fill="#000000"/>
<rect x="626" y="572" width="2" height="1" fill="#ffffff"/>
<line x1="631.5" y1="550" x2="631.5" y2="583" stroke="#000000" stroke-width="1"/>
<rect x="629" y="560" width="4" height="13" fill="#000000"/>
<rect x="630" y="561" width="2" height="11" fill="#ffffff"/>
<line x1="635.5" y1="546" x2="635.5" y2="565" stroke="#2e2e2e" stroke-width="1"/>
<rect x="633" y="550" width="5" height="9" fill="#2e2e2e"/>
<rect x="634" y="551" width="3" height="7" fill="#d8d8d8"/>
<line x1="640.5" y1="545" x2="640.5" y2="566" stroke="#2e2e2e" stroke-width="1"/>
<rect x="638" y="547" width="4" height="13" fill="#2e2e2e"/>
<line x1="644.5" y1="545" x2="644.5" y2="570" stroke="#2e2e2e" stroke-width="1"/>
<rect x="642" y="552" width="5" height="8" fill="#2e2e2e"/>
<rect x="643" y="553" width="3" height="6" fill="#d8d8d8"/>
<line x1="649.5" y1="543" x2="649.5" y2="558" stroke="#2e2e2e" stroke-width="1"/>
<rect x="647" y="550" width="4" height="3" fill="#2e2e2e"/>
<rect x="648" y="551" width="2" height="1" fill="#d8d8d8"/>
<line x1="653.5" y1="530" x2="653.5" y2="562" stroke="#2e2e2e" stroke-width="1"/>
<rect x="651" y="533" width="5" height="18" fill="#2e2e2e"/>
<rect x="652" y="534" width="3" height="16" fill="#d8d8d8"/>
<line x1="658.5" y1="521" x2="658.5" y2="548" stroke="#2e2e2e" stroke-width="1"/>
<rect x="656" y="533" width="4" height="2" fill="#2e2e2e"/>
<line x1="662.5" y1="522" x2="662.5" y2="542" stroke="#2e2e2e" stroke-width="1"/>
<rect x="660" y="531" width="5" height="4" fill="#2e2e2e"/>
<rect x="661" y="532" width="3" height="2" fill="#d8d8d8"/>
<line x1="667.5" y1="511" x2="667.5" y2="537" stroke="#2e2e2e" stroke-width="1"/>
<rect x="665" y="515" width="4" height="16" fill="#2e2e2e"/>
<rect x="666" y="516" width="2" height="14" fill="#d8d8d8"/>
<line x1="671.5" y1="474" x2="671.5" y2="520" stroke="#2e2e2e" stroke-width="1"/>
<rect x="669" y="481" width="4" height="34" fill="#2e2e2e"/>
<rect x="670" y="482" width="2" height="32" fill="#d8d8d8"/>
<line x1="675.5" y1="446" x2="675.5" y2="501" stroke="#2e2e2e" stroke-width="1"/>
<rect x="673" y="453" width="5" height="27" fill="#2e2e2e"/>
<rect x="674" y="454" width="3" height="25" fill="#d8d8d8"/>
<line x1="680.5" y1="432" x2="680.5" y2="456" stroke="#000000" stroke-width="1"/>
<rect x="678" y="447" width="4" height="6" fill="#000000"/>
<rect x="679" y="448" width="2" height="4" fill="#ffffff"/>
<line x1="684.5" y1="441" x2="684.5" y2="460" stroke="#000000" stroke-width="1"/>
<rect x="682" y="445" width="5" height="9" fill="#000000"/>
<line x1="689.5" y1="450" x2="689.5" y2="470" stroke="#000000" stroke-width="1"/>
<rect x="687" y="453" width="4" height="1" fill="#000000"/>
<line x1="693.5" y1="423" x2="693.5" y2="454" stroke="#000000" stroke-width="1"/>
<rect x="691" y="428" width="5" height="25" fill="#000000"/>
<rect x="692" y="429" width="3" height="23" fill="#ffffff"/>
<line x1="698.5" y1="419" x2="698.5" y2="450" stroke="#000000" stroke-width="1"/>
<rect x="696" y="427" width="4" height="11" fill="#000000"/>
<line x1="702.5" y1="426" x2="702.5" y2="453" stroke="#000000" stroke-width="1"/>
<rect x="700" y="438" width="5" height="13" fill="#000000"/>
<line x1="707.5" y1="449" x2="707.5" y2="464" stroke="#000000" stroke-width="1"/>
<rect x="705" y="452" width="4" height="2" fill="#000000"/>
<line x1="711.5" y1="432" x2="711.5" y2="458" stroke="#000000" stroke-width="1"/>
<rect x="709" y="447" width="4" height="6" fill="#000000"/>
<rect x="710" y="448" width="2" height="4" fill="#ffffff"/>
<line x1="715.5" y1="428" x2="715.5" y2="449" stroke="#000000" stroke-width="1"/>
<rect x="713" y="431" width="5" height="16" fill="#000000"/>
<rect x="714" y="432" width="3" height="14" fill="#ffffff"/>
<line x1="720.5" y1="413" x2="720.5" y2="434" stroke="#000000" stroke-width="1"/>
<rect x="718" y="420" width="4" height="11" fill="#000000"/>
<rect x="719" y="421" width="2" height="9" fill="#ffffff"/>
<line x1="724.5" y1="406" x2="724.5" y2="425" stroke="#000000" stroke-width="1"/>
<rect x="722" y="408" width="5" height="13" fill="#000000"/>
<rect x="723" y="409" width="3" height="11" fill="#ffffff"/>
<line x1="729.5" y1="403" x2="729.5" y2="427" stroke="#000000" stroke-width="1"/>
<rect x="727" y="410" width="4" height="14" fill="#000000"/>
<line x1="733.5" y1="422" x2="733.5" y2="455" stroke="#000000" stroke-width="1"/>
<rect x="731" y="423" width="5" height="22" fill="#000000"/>
<line x1="738.5" y1="438" x2="738.5" y2="456" stroke="#000000" stroke-width="1"/>
<rect x="736" y="444" width="4" height="1" fill="#000000"/>
<line x1="742.5" y1="431" x2="742.5" y2="449" stroke="#000000" stroke-width="1"/>
<rect x="740" y="444" width="5" height="2" fill="#000000"/>
<line x1="747.5" y1="431" x2="747.5" y2="460" stroke="#000000" stroke-width="1"/>
<rect x="745" y="445" width="4" height="10" fill="#000000"/>
<line x1="751.5" y1="456" x2="751.5" y2="466" stroke="#000000" stroke-width="1"/>
<rect x="749" y="459" width="5" height="4" fill="#000000"/>
</g>
<polyline points="6.5,393.0 20.0,391.5 50.0,391.5 80.0,393.0 110.0,392.5 122.0,391.0 130.0,388.0 150.0,378.0 170.0,365.0 190.0,353.5 205.3,345.8 223.2,333.0 241.1,320.3 256.4,311.3 274.3,297.3 292.2,284.5 305.0,276.8 317.7,271.7 330.5,269.7 342.0,269.2 353.5,273.5 368.8,280.1 381.6,288.3 391.8,299.8 395.0,303.8 420.5,326.8 446.1,349.8 471.6,374.1 497.2,400.9 522.7,432.9 540.0,448.6 553.1,460.4 566.2,466.9 579.3,470.8 592.4,476.1 605.5,483.1 618.6,490.5 631.7,497.0 644.8,503.6 657.9,510.1 665.7,513.5 676.2,516.2 697.2,516.7 710.2,516.2 723.3,513.5 736.4,508.8 751.6,501.8" fill="none" stroke="#1e7d1e" stroke-width="1.0" stroke-linejoin="round" />
<polyline points="6.5,383.0 50.0,386.5 80.0,390.0 100.0,391.5 120.0,391.0 140.0,388.0 160.0,384.0 180.0,378.0 190.0,375.7 205.3,370.1 223.2,362.4 241.1,355.3 256.4,350.2 274.3,344.0 292.2,338.1 305.0,334.3 317.7,332.3 330.5,330.5 343.3,330.2 356.0,331.2 365.0,330.5 374.0,332.3 386.7,334.3 395.0,335.0 420.5,339.6 446.1,343.4 471.6,346.0 497.2,349.3 510.0,351.1 535.5,358.8 561.1,365.9 579.0,374.1 594.3,381.8 600.2,384.4 618.6,398.8 644.8,421.0 671.0,438.1 684.0,444.6 697.2,449.4 710.2,454.3 723.3,458.5 736.4,463.0 751.6,469.5" fill="none" stroke="#1c1c96" stroke-width="1.1" stroke-linejoin="round" />
<polyline points="6.5,357.0 30.0,360.0 60.0,363.0 100.0,368.0 120.0,369.5 150.0,367.5 175.0,363.0 190.0,361.6 205.3,359.4 223.2,356.8 241.1,354.2 256.4,352.2 274.3,350.4 292.2,349.1 305.0,348.6 317.7,348.6 330.5,349.1 343.3,350.2 356.0,351.2 368.8,352.7 381.6,354.8 395.0,356.2 420.5,359.3 446.1,362.6 471.6,365.2 497.2,367.7 522.7,372.0 548.3,376.6 573.8,380.5 600.2,384.4 631.7,392.3 657.9,396.2 684.0,398.0 710.2,398.8 736.4,400.2 751.6,400.8" fill="none" stroke="#c62a4a" stroke-width="1.1" stroke-linejoin="round" />
<g clip-path="url(#cp)">
<polyline points="6.5,393.0 20.0,391.5 50.0,391.5 80.0,393.0 110.0,392.5 122.0,391.0 130.0,388.0 150.0,378.0 170.0,365.0 190.0,353.5 205.3,345.8 223.2,333.0 241.1,320.3 256.4,311.3 274.3,297.3 292.2,284.5 305.0,276.8 317.7,271.7 330.5,269.7 342.0,269.2 353.5,273.5 368.8,280.1 381.6,288.3 391.8,299.8 395.0,303.8 420.5,326.8 446.1,349.8 471.6,374.1 497.2,400.9 522.7,432.9 540.0,448.6 553.1,460.4 566.2,466.9 579.3,470.8 592.4,476.1 605.5,483.1 618.6,490.5 631.7,497.0 644.8,503.6 657.9,510.1 665.7,513.5 676.2,516.2 697.2,516.7 710.2,516.2 723.3,513.5 736.4,508.8 751.6,501.8" fill="none" stroke="#239023" stroke-width="1.0" stroke-linejoin="round" />
<polyline points="6.5,383.0 50.0,386.5 80.0,390.0 100.0,391.5 120.0,391.0 140.0,388.0 160.0,384.0 180.0,378.0 190.0,375.7 205.3,370.1 223.2,362.4 241.1,355.3 256.4,350.2 274.3,344.0 292.2,338.1 305.0,334.3 317.7,332.3 330.5,330.5 343.3,330.2 356.0,331.2 365.0,330.5 374.0,332.3 386.7,334.3 395.0,335.0 420.5,339.6 446.1,343.4 471.6,346.0 497.2,349.3 510.0,351.1 535.5,358.8 561.1,365.9 579.0,374.1 594.3,381.8 600.2,384.4 618.6,398.8 644.8,421.0 671.0,438.1 684.0,444.6 697.2,449.4 710.2,454.3 723.3,458.5 736.4,463.0 751.6,469.5" fill="none" stroke="#3434cc" stroke-width="1.05" stroke-linejoin="round" />
<polyline points="6.5,357.0 30.0,360.0 60.0,363.0 100.0,368.0 120.0,369.5 150.0,367.5 175.0,363.0 190.0,361.6 205.3,359.4 223.2,356.8 241.1,354.2 256.4,352.2 274.3,350.4 292.2,349.1 305.0,348.6 317.7,348.6 330.5,349.1 343.3,350.2 356.0,351.2 368.8,352.7 381.6,354.8 395.0,356.2 420.5,359.3 446.1,362.6 471.6,365.2 497.2,367.7 522.7,372.0 548.3,376.6 573.8,380.5 600.2,384.4 631.7,392.3 657.9,396.2 684.0,398.0 710.2,398.8 736.4,400.2 751.6,400.8" fill="none" stroke="#e4503a" stroke-width="1.1" stroke-linejoin="round" />
</g>
<polygon points="166.6,190.8 198.2,190.8 198.2,201.2 187.4,201.2 182.4,206.6 177.4,201.2 166.6,201.2" fill="#ffffff" fill-opacity="0.6" stroke="#c8c8c8" stroke-width="1"/>
<text x="169.2" y="199.5" font-size="10.4" textLength="26.6" lengthAdjust="spacingAndGlyphs" fill="#000" stroke="#000" stroke-width="0.25">149.12</text>
<polygon points="214.7,181.0 246.3,181.0 246.3,191.4 235.5,191.4 230.5,196.8 225.5,191.4 214.7,191.4" fill="#ffffff" fill-opacity="0.6" stroke="#c8c8c8" stroke-width="1"/>
<text x="217.3" y="189.7" font-size="10.4" textLength="26.6" lengthAdjust="spacingAndGlyphs" fill="#000" stroke="#000" stroke-width="0.25">149.72</text>
<polygon points="174.9,269.4 185.7,269.4 190.7,264.0 195.7,269.4 206.5,269.4 206.5,279.8 174.9,279.8" fill="#ffffff" fill-opacity="0.6" stroke="#c8c8c8" stroke-width="1"/>
<text x="177.5" y="278.1" font-size="10.4" textLength="26.6" lengthAdjust="spacingAndGlyphs" fill="#000" stroke="#000" stroke-width="0.25">145.53</text>
<polygon points="54.5,458.3 65.3,458.3 70.3,452.9 75.3,458.3 86.1,458.3 86.1,468.7 54.5,468.7" fill="#ffffff" fill-opacity="0.6" stroke="#c8c8c8" stroke-width="1"/>
<text x="57.1" y="467.0" font-size="10.4" textLength="26.6" lengthAdjust="spacingAndGlyphs" fill="#000" stroke="#000" stroke-width="0.25">134.09</text>
<polygon points="334.8,446.4 345.6,446.4 350.6,441.0 355.6,446.4 366.4,446.4 366.4,456.8 334.8,456.8" fill="#ffffff" fill-opacity="0.6" stroke="#c8c8c8" stroke-width="1"/>
<text x="337.4" y="455.1" font-size="10.4" textLength="26.6" lengthAdjust="spacingAndGlyphs" fill="#000" stroke="#000" stroke-width="0.25">134.77</text>
<polygon points="361.9,526.4 372.7,526.4 377.7,521.0 382.7,526.4 393.5,526.4 393.5,536.8 361.9,536.8" fill="#ffffff" fill-opacity="0.6" stroke="#c8c8c8" stroke-width="1"/>
<text x="364.5" y="535.1" font-size="10.4" textLength="26.6" lengthAdjust="spacingAndGlyphs" fill="#000" stroke="#000" stroke-width="0.25">130.12</text>
<polygon points="392.5,414.0 424.1,414.0 424.1,424.4 417.8,424.4 412.8,429.8 407.8,424.4 392.5,424.4" fill="#ffffff" fill-opacity="0.6" stroke="#c8c8c8" stroke-width="1"/>
<text x="395.1" y="422.7" font-size="10.4" textLength="26.6" lengthAdjust="spacingAndGlyphs" fill="#000" stroke="#000" stroke-width="0.25">135.36</text>
<polygon points="419.4,391.8 451.0,391.8 451.0,402.2 440.2,402.2 435.2,407.6 430.2,402.2 419.4,402.2" fill="#ffffff" fill-opacity="0.6" stroke="#c8c8c8" stroke-width="1"/>
<text x="422.0" y="400.5" font-size="10.4" textLength="26.6" lengthAdjust="spacingAndGlyphs" fill="#000" stroke="#000" stroke-width="0.25">136.69</text>
<polygon points="544.2,480.5 575.8,480.5 575.8,490.9 565.0,490.9 560.0,496.3 555.0,490.9 544.2,490.9" fill="#ffffff" fill-opacity="0.6" stroke="#c8c8c8" stroke-width="1"/>
<text x="546.8" y="489.2" font-size="10.4" textLength="26.6" lengthAdjust="spacingAndGlyphs" fill="#000" stroke="#000" stroke-width="0.25">131.50</text>
<polygon points="579.8,484.6 611.4,484.6 611.4,495.0 600.6,495.0 595.6,500.4 590.6,495.0 579.8,495.0" fill="#ffffff" fill-opacity="0.6" stroke="#c8c8c8" stroke-width="1"/>
<text x="582.4" y="493.3" font-size="10.4" textLength="26.6" lengthAdjust="spacingAndGlyphs" fill="#000" stroke="#000" stroke-width="0.25">131.28</text>
<polygon points="513.0,586.0 525.0,586.0 530.0,580.6 535.0,586.0 544.6,586.0 544.6,596.4 513.0,596.4" fill="#ffffff" fill-opacity="0.6" stroke="#c8c8c8" stroke-width="1"/>
<text x="515.6" y="594.7" font-size="10.4" textLength="26.6" lengthAdjust="spacingAndGlyphs" fill="#000" stroke="#000" stroke-width="0.25">126.85</text>
<polygon points="570.7,559.2 581.5,559.2 586.5,553.8 591.5,559.2 602.3,559.2 602.3,569.6 570.7,569.6" fill="#ffffff" fill-opacity="0.6" stroke="#c8c8c8" stroke-width="1"/>
<text x="573.3" y="567.9" font-size="10.4" textLength="26.6" lengthAdjust="spacingAndGlyphs" fill="#000" stroke="#000" stroke-width="0.25">128.36</text>
<polygon points="606.5,599.8 617.3,599.8 622.3,594.4 627.3,599.8 638.1,599.8 638.1,610.2 606.5,610.2" fill="#ffffff" fill-opacity="0.6" stroke="#c8c8c8" stroke-width="1"/>
<text x="609.1" y="608.5" font-size="10.4" textLength="26.6" lengthAdjust="spacingAndGlyphs" fill="#000" stroke="#000" stroke-width="0.25">126.05</text>
<polygon points="713.5,386.8 745.1,386.8 745.1,397.2 734.3,397.2 729.3,402.6 724.3,397.2 713.5,397.2" fill="#ffffff" fill-opacity="0.6" stroke="#c8c8c8" stroke-width="1"/>
<text x="716.1" y="395.5" font-size="10.4" textLength="26.6" lengthAdjust="spacingAndGlyphs" fill="#000" stroke="#000" stroke-width="0.25">136.95</text>
<line x1="306.5" y1="413.5" x2="773" y2="413.5" stroke="#1c1c1c" stroke-width="1.2" shape-rendering="crispEdges"/>
<line x1="306.5" y1="455.5" x2="773" y2="455.5" stroke="#1c1c1c" stroke-width="1.2" shape-rendering="crispEdges"/>
<line x1="306.5" y1="481.5" x2="773" y2="481.5" stroke="#1c1c1c" stroke-width="1.2" shape-rendering="crispEdges"/>
<line x1="306.5" y1="509.5" x2="773" y2="509.5" stroke="#1c1c1c" stroke-width="1.2" shape-rendering="crispEdges"/>
<line x1="306.5" y1="550.5" x2="773" y2="550.5" stroke="#1c1c1c" stroke-width="1.2" shape-rendering="crispEdges"/>
<line x1="306.5" y1="579.5" x2="773" y2="579.5" stroke="#1c1c1c" stroke-width="1.2" shape-rendering="crispEdges"/>
<line x1="573" y1="181.5" x2="773" y2="181.5" stroke="#8c8c8c" stroke-width="1.2" shape-rendering="crispEdges"/>
<line x1="0.0" y1="376.0" x2="773.5" y2="409.0" stroke="#666a5c" stroke-width="1.1" stroke-dasharray="22 3 3 3"/>
<line x1="0.0" y1="393.0" x2="773.5" y2="408.2" stroke="#3a7a44" stroke-width="1.1" stroke-dasharray="22 3 3 3"/>
<line x1="0.0" y1="385.5" x2="778.6" y2="465.0" stroke="#c08a8a" stroke-width="1.0" stroke-dasharray="26 3 3 3"/>
<line x1="0.0" y1="480.6" x2="773.5" y2="514.4" stroke="#8a8a80" stroke-width="1.1" stroke-dasharray="26 3 3 3"/>
<line x1="0.0" y1="569.4" x2="772.0" y2="585.3" stroke="#7fae86" stroke-width="1.2" stroke-dasharray="26 3 3 3"/>
<line x1="0.0" y1="433.5" x2="724.5" y2="609.5" stroke="#7a7f7a" stroke-width="1.0" stroke-dasharray="30 3 3 3"/>
<line x1="101.0" y1="222.8" x2="707.8" y2="563.7" stroke="#1f4a25" stroke-width="1.2" stroke-dasharray="22 3 3 3"/>
<line x1="507.1" y1="592.4" x2="760.5" y2="448.6" stroke="#8e1c2c" stroke-width="1.2" stroke-dasharray="14 3 3 3"/>
<line x1="506.2" y1="585.7" x2="760.5" y2="528.6" stroke="#8e1c2c" stroke-width="1.2" stroke-dasharray="14 3 3 3"/>
<line x1="146.5" y1="155.6" x2="756.8" y2="494.1" stroke="#0b2b10" stroke-width="2.3" stroke-dasharray="16 1.7 2.4 1.7"/>
<line x1="0.0" y1="412.3" x2="720.2" y2="588.0" stroke="#0b2b10" stroke-width="2.3" stroke-dasharray="17.7 1.7 2.4 1.7"/>
<line x1="225.8" y1="210.0" x2="225.8" y2="468.0" stroke="#b48c8c" stroke-width="1.8" stroke-dasharray="4 2.2"/>
<line x1="680.6" y1="191.0" x2="680.6" y2="455.0" stroke="#a87880" stroke-width="1.9" stroke-dasharray="4 2.2"/>
<polygon points="680.6,183.2 674.6,194.3 680.6,191 686.2,194.3" fill="#ecc4c8" stroke="#c87480" stroke-width="1.3" stroke-linejoin="round"/>
<polygon points="225.8,202.5 220.5,213 225.8,210.5 231.3,213" fill="#a03030" fill-opacity="0.4" stroke="#9a3030" stroke-opacity="0.55" stroke-width="1" stroke-linejoin="round"/>
<g stroke="#b0b0b0" stroke-width="1" fill="none" shape-rendering="crispEdges">
<rect x="6.5" y="26.5" width="796.0" height="587.0"/>
<line x1="6.5" y1="178.5" x2="802.5" y2="178.5" stroke="#a6a6a6"/>
<line x1="802.5" y1="594.5" x2="805.5" y2="594.5"/>
<line x1="802.5" y1="576.5" x2="805.5" y2="576.5"/>
<line x1="802.5" y1="558.5" x2="805.5" y2="558.5"/>
<line x1="802.5" y1="540.5" x2="805.5" y2="540.5"/>
<line x1="802.5" y1="522.5" x2="805.5" y2="522.5"/>
<line x1="802.5" y1="505.5" x2="805.5" y2="505.5"/>
<line x1="802.5" y1="487.5" x2="805.5" y2="487.5"/>
<line x1="802.5" y1="470.5" x2="805.5" y2="470.5"/>
<line x1="802.5" y1="453.5" x2="805.5" y2="453.5"/>
<line x1="802.5" y1="436.5" x2="805.5" y2="436.5"/>
<line x1="802.5" y1="419.5" x2="805.5" y2="419.5"/>
<line x1="802.5" y1="402.5" x2="805.5" y2="402.5"/>
<line x1="802.5" y1="385.5" x2="805.5" y2="385.5"/>
<line x1="802.5" y1="368.5" x2="805.5" y2="368.5"/>
<line x1="802.5" y1="352.5" x2="805.5" y2="352.5"/>
<line x1="802.5" y1="336.5" x2="805.5" y2="336.5"/>
<line x1="802.5" y1="319.5" x2="805.5" y2="319.5"/>
<line x1="802.5" y1="303.5" x2="805.5" y2="303.5"/>
<line x1="802.5" y1="287.5" x2="805.5" y2="287.5"/>
<line x1="802.5" y1="271.5" x2="805.5" y2="271.5"/>
<line x1="802.5" y1="255.5" x2="805.5" y2="255.5"/>
<line x1="802.5" y1="240.5" x2="805.5" y2="240.5"/>
<line x1="802.5" y1="224.5" x2="805.5" y2="224.5"/>
<line x1="802.5" y1="209.5" x2="805.5" y2="209.5"/>
<line x1="802.5" y1="193.5" x2="805.5" y2="193.5"/>
<line x1="802.5" y1="157.5" x2="805.5" y2="157.5"/>
<line x1="802.5" y1="130.5" x2="805.5" y2="130.5"/>
<line x1="802.5" y1="75.5" x2="805.5" y2="75.5"/>
<line x1="802.5" y1="47.5" x2="805.5" y2="47.5"/>
<line x1="802.5" y1="171.5" x2="804.5" y2="171.5"/>
<line x1="802.5" y1="144.5" x2="804.5" y2="144.5"/>
<line x1="802.5" y1="116.5" x2="804.5" y2="116.5"/>
<line x1="802.5" y1="102.5" x2="804.5" y2="102.5"/>
<line x1="802.5" y1="88.5" x2="804.5" y2="88.5"/>
<line x1="802.5" y1="61.5" x2="804.5" y2="61.5"/>
<line x1="802.5" y1="33.5" x2="804.5" y2="33.5"/>
<line x1="8.5" y1="613.5" x2="8.5" y2="615.0"/>
<line x1="13.5" y1="613.5" x2="13.5" y2="615.0"/>
<line x1="17.5" y1="613.5" x2="17.5" y2="615.0"/>
<line x1="21.5" y1="613.5" x2="21.5" y2="615.0"/>
<line x1="26.5" y1="613.5" x2="26.5" y2="615.0"/>
<line x1="30.5" y1="613.5" x2="30.5" y2="615.0"/>
<line x1="35.5" y1="613.5" x2="35.5" y2="615.0"/>
<line x1="39.5" y1="613.5" x2="39.5" y2="615.0"/>
<line x1="44.5" y1="613.5" x2="44.5" y2="615.0"/>
<line x1="48.5" y1="613.5" x2="48.5" y2="615.0"/>
<line x1="53.5" y1="613.5" x2="53.5" y2="615.0"/>
<line x1="57.5" y1="613.5" x2="57.5" y2="615.0"/>
<line x1="61.5" y1="613.5" x2="61.5" y2="615.0"/>
<line x1="66.5" y1="613.5" x2="66.5" y2="615.0"/>
<line x1="70.5" y1="613.5" x2="70.5" y2="615.0"/>
<line x1="75.5" y1="613.5" x2="75.5" y2="615.0"/>
<line x1="79.5" y1="613.5" x2="79.5" y2="615.0"/>
<line x1="84.5" y1="613.5" x2="84.5" y2="615.0"/>
<line x1="88.5" y1="613.5" x2="88.5" y2="615.0"/>
<line x1="93.5" y1="613.5" x2="93.5" y2="615.0"/>
<line x1="97.5" y1="613.5" x2="97.5" y2="615.0"/>
<line x1="101.5" y1="613.5" x2="101.5" y2="615.0"/>
<line x1="106.5" y1="613.5" x2="106.5" y2="615.0"/>
<line x1="110.5" y1="613.5" x2="110.5" y2="615.0"/>
<line x1="115.5" y1="613.5" x2="115.5" y2="615.0"/>
<line x1="119.5" y1="613.5" x2="119.5" y2="615.0"/>
<line x1="124.5" y1="613.5" x2="124.5" y2="615.0"/>
<line x1="128.5" y1="613.5" x2="128.5" y2="615.0"/>
<line x1="133.5" y1="613.5" x2="133.5" y2="615.0"/>
<line x1="137.5" y1="613.5" x2="137.5" y2="615.0"/>
<line x1="142.5" y1="613.5" x2="142.5" y2="615.0"/>
<line x1="146.5" y1="613.5" x2="146.5" y2="615.0"/>
<line x1="150.5" y1="613.5" x2="150.5" y2="615.0"/>
<line x1="155.5" y1="613.5" x2="155.5" y2="615.0"/>
<line x1="159.5" y1="613.5" x2="159.5" y2="615.0"/>
<line x1="164.5" y1="613.5" x2="164.5" y2="615.0"/>
<line x1="168.5" y1="613.5" x2="168.5" y2="615.0"/>
<line x1="173.5" y1="613.5" x2="173.5" y2="615.0"/>
<line x1="177.5" y1="613.5" x2="177.5" y2="615.0"/>
<line x1="182.5" y1="613.5" x2="182.5" y2="615.0"/>
<line x1="186.5" y1="613.5" x2="186.5" y2="615.0"/>
<line x1="190.5" y1="613.5" x2="190.5" y2="615.0"/>
<line x1="195.5" y1="613.5" x2="195.5" y2="615.0"/>
<line x1="199.5" y1="613.5" x2="199.5" y2="615.0"/>
<line x1="204.5" y1="613.5" x2="204.5" y2="615.0"/>
<line x1="208.5" y1="613.5" x2="208.5" y2="615.0"/>
<line x1="213.5" y1="613.5" x2="213.5" y2="615.0"/>
<line x1="217.5" y1="613.5" x2="217.5" y2="615.0"/>
<line x1="222.5" y1="613.5" x2="222.5" y2="615.0"/>
<line x1="226.5" y1="613.5" x2="226.5" y2="615.0"/>
<line x1="231.5" y1="613.5" x2="231.5" y2="615.0"/>
<line x1="235.5" y1="613.5" x2="235.5" y2="615.0"/>
<line x1="239.5" y1="613.5" x2="239.5" y2="615.0"/>
<line x1="244.5" y1="613.5" x2="244.5" y2="615.0"/>
<line x1="248.5" y1="613.5" x2="248.5" y2="615.0"/>
<line x1="253.5" y1="613.5" x2="253.5" y2="615.0"/>
<line x1="257.5" y1="613.5" x2="257.5" y2="615.0"/>
<line x1="262.5" y1="613.5" x2="262.5" y2="615.0"/>
<line x1="266.5" y1="613.5" x2="266.5" y2="615.0"/>
<line x1="271.5" y1="613.5" x2="271.5" y2="615.0"/>
<line x1="275.5" y1="613.5" x2="275.5" y2="615.0"/>
<line x1="279.5" y1="613.5" x2="279.5" y2="615.0"/>
<line x1="284.5" y1="613.5" x2="284.5" y2="615.0"/>
<line x1="288.5" y1="613.5" x2="288.5" y2="615.0"/>
<line x1="293.5" y1="613.5" x2="293.5" y2="615.0"/>
<line x1="297.5" y1="613.5" x2="297.5" y2="615.0"/>
<line x1="302.5" y1="613.5" x2="302.5" y2="615.0"/>
<line x1="306.5" y1="613.5" x2="306.5" y2="615.0"/>
<line x1="311.5" y1="613.5" x2="311.5" y2="615.0"/>
<line x1="315.5" y1="613.5" x2="315.5" y2="615.0"/>
<line x1="319.5" y1="613.5" x2="319.5" y2="615.0"/>
<line x1="324.5" y1="613.5" x2="324.5" y2="615.0"/>
<line x1="328.5" y1="613.5" x2="328.5" y2="615.0"/>
<line x1="333.5" y1="613.5" x2="333.5" y2="615.0"/>
<line x1="337.5" y1="613.5" x2="337.5" y2="615.0"/>
<line x1="342.5" y1="613.5" x2="342.5" y2="615.0"/>
<line x1="346.5" y1="613.5" x2="346.5" y2="615.0"/>
<line x1="351.5" y1="613.5" x2="351.5" y2="615.0"/>
<line x1="355.5" y1="613.5" x2="355.5" y2="615.0"/>
<line x1="360.5" y1="613.5" x2="360.5" y2="615.0"/>
<line x1="364.5" y1="613.5" x2="364.5" y2="615.0"/>
<line x1="368.5" y1="613.5" x2="368.5" y2="615.0"/>
<line x1="373.5" y1="613.5" x2="373.5" y2="615.0"/>
<line x1="377.5" y1="613.5" x2="377.5" y2="615.0"/>
<line x1="382.5" y1="613.5" x2="382.5" y2="615.0"/>
<line x1="386.5" y1="613.5" x2="386.5" y2="615.0"/>
<line x1="391.5" y1="613.5" x2="391.5" y2="615.0"/>
<line x1="395.5" y1="613.5" x2="395.5" y2="615.0"/>
<line x1="400.5" y1="613.5" x2="400.5" y2="615.0"/>
<line x1="404.5" y1="613.5" x2="404.5" y2="615.0"/>
<line x1="408.5" y1="613.5" x2="408.5" y2="615.0"/>
<line x1="413.5" y1="613.5" x2="413.5" y2="615.0"/>
<line x1="417.5" y1="613.5" x2="417.5" y2="615.0"/>
<line x1="422.5" y1="613.5" x2="422.5" y2="615.0"/>
<line x1="426.5" y1="613.5" x2="426.5" y2="615.0"/>
<line x1="431.5" y1="613.5" x2="431.5" y2="615.0"/>
<line x1="435.5" y1="613.5" x2="435.5" y2="615.0"/>
<line x1="440.5" y1="613.5" x2="440.5" y2="615.0"/>
<line x1="444.5" y1="613.5" x2="444.5" y2="615.0"/>
<line x1="449.5" y1="613.5" x2="449.5" y2="615.0"/>
<line x1="453.5" y1="613.5" x2="453.5" y2="615.0"/>
<line x1="457.5" y1="613.5" x2="457.5" y2="615.0"/>
<line x1="462.5" y1="613.5" x2="462.5" y2="615.0"/>
<line x1="466.5" y1="613.5" x2="466.5" y2="615.0"/>
<line x1="471.5" y1="613.5" x2="471.5" y2="615.0"/>
<line x1="475.5" y1="613.5" x2="475.5" y2="615.0"/>
<line x1="480.5" y1="613.5" x2="480.5" y2="615.0"/>
<line x1="484.5" y1="613.5" x2="484.5" y2="615.0"/>
<line x1="489.5" y1="613.5" x2="489.5" y2="615.0"/>
<line x1="493.5" y1="613.5" x2="493.5" y2="615.0"/>
<line x1="497.5" y1="613.5" x2="497.5" y2="615.0"/>
<line x1="502.5" y1="613.5" x2="502.5" y2="615.0"/>
<line x1="506.5" y1="613.5" x2="506.5" y2="615.0"/>
<line x1="511.5" y1="613.5" x2="511.5" y2="615.0"/>
<line x1="515.5" y1="613.5" x2="515.5" y2="615.0"/>
<line x1="520.5" y1="613.5" x2="520.5" y2="615.0"/>
<line x1="524.5" y1="613.5" x2="524.5" y2="615.0"/>
<line x1="529.5" y1="613.5" x2="529.5" y2="615.0"/>
<line x1="533.5" y1="613.5" x2="533.5" y2="615.0"/>
<line x1="537.5" y1="613.5" x2="537.5" y2="615.0"/>
<line x1="542.5" y1="613.5" x2="542.5" y2="615.0"/>
<line x1="546.5" y1="613.5" x2="546.5" y2="615.0"/>
<line x1="551.5" y1="613.5" x2="551.5" y2="615.0"/>
<line x1="555.5" y1="613.5" x2="555.5" y2="615.0"/>
<line x1="560.5" y1="613.5" x2="560.5" y2="615.0"/>
<line x1="564.5" y1="613.5" x2="564.5" y2="615.0"/>
<line x1="569.5" y1="613.5" x2="569.5" y2="615.0"/>
<line x1="573.5" y1="613.5" x2="573.5" y2="615.0"/>
<line x1="578.5" y1="613.5" x2="578.5" y2="615.0"/>
<line x1="582.5" y1="613.5" x2="582.5" y2="615.0"/>
<line x1="586.5" y1="613.5" x2="586.5" y2="615.0"/>
<line x1="591.5" y1="613.5" x2="591.5" y2="615.0"/>
<line x1="595.5" y1="613.5" x2="595.5" y2="615.0"/>
<line x1="600.5" y1="613.5" x2="600.5" y2="615.0"/>
<line x1="604.5" y1="613.5" x2="604.5" y2="615.0"/>
<line x1="609.5" y1="613.5" x2="609.5" y2="615.0"/>
<line x1="613.5" y1="613.5" x2="613.5" y2="615.0"/>
<line x1="618.5" y1="613.5" x2="618.5" y2="615.0"/>
<line x1="622.5" y1="613.5" x2="622.5" y2="615.0"/>
<line x1="626.5" y1="613.5" x2="626.5" y2="615.0"/>
<line x1="631.5" y1="613.5" x2="631.5" y2="615.0"/>
<line x1="635.5" y1="613.5" x2="635.5" y2="615.0"/>
<line x1="640.5" y1="613.5" x2="640.5" y2="615.0"/>
<line x1="644.5" y1="613.5" x2="644.5" y2="615.0"/>
<line x1="649.5" y1="613.5" x2="649.5" y2="615.0"/>
<line x1="653.5" y1="613.5" x2="653.5" y2="615.0"/>
<line x1="658.5" y1="613.5" x2="658.5" y2="615.0"/>
<line x1="662.5" y1="613.5" x2="662.5" y2="615.0"/>
<line x1="667.5" y1="613.5" x2="667.5" y2="615.0"/>
<line x1="671.5" y1="613.5" x2="671.5" y2="615.0"/>
<line x1="675.5" y1="613.5" x2="675.5" y2="615.0"/>
<line x1="680.5" y1="613.5" x2="680.5" y2="615.0"/>
<line x1="684.5" y1="613.5" x2="684.5" y2="615.0"/>
<line x1="689.5" y1="613.5" x2="689.5" y2="615.0"/>
<line x1="693.5" y1="613.5" x2="693.5" y2="615.0"/>
<line x1="698.5" y1="613.5" x2="698.5" y2="615.0"/>
<line x1="702.5" y1="613.5" x2="702.5" y2="615.0"/>
<line x1="707.5" y1="613.5" x2="707.5" y2="615.0"/>
<line x1="711.5" y1="613.5" x2="711.5" y2="615.0"/>
<line x1="715.5" y1="613.5" x2="715.5" y2="615.0"/>
<line x1="720.5" y1="613.5" x2="720.5" y2="615.0"/>
<line x1="724.5" y1="613.5" x2="724.5" y2="615.0"/>
<line x1="729.5" y1="613.5" x2="729.5" y2="615.0"/>
<line x1="733.5" y1="613.5" x2="733.5" y2="615.0"/>
<line x1="738.5" y1="613.5" x2="738.5" y2="615.0"/>
<line x1="742.5" y1="613.5" x2="742.5" y2="615.0"/>
<line x1="747.5" y1="613.5" x2="747.5" y2="615.0"/>
<line x1="751.5" y1="613.5" x2="751.5" y2="615.0"/>
<line x1="755.5" y1="613.5" x2="755.5" y2="615.0"/>
<line x1="760.5" y1="613.5" x2="760.5" y2="615.0"/>
<line x1="764.5" y1="613.5" x2="764.5" y2="615.0"/>
<line x1="769.5" y1="613.5" x2="769.5" y2="615.0"/>
<line x1="773.5" y1="613.5" x2="773.5" y2="615.0"/>
<line x1="778.5" y1="613.5" x2="778.5" y2="615.0"/>
<line x1="782.5" y1="613.5" x2="782.5" y2="615.0"/>
<line x1="787.5" y1="613.5" x2="787.5" y2="615.0"/>
<line x1="791.5" y1="613.5" x2="791.5" y2="615.0"/>
<line x1="796.5" y1="613.5" x2="796.5" y2="615.0"/>
<line x1="800.5" y1="613.5" x2="800.5" y2="615.0"/>
<line x1="12.5" y1="613.5" x2="12.5" y2="616.0"/>
<line x1="35.5" y1="613.5" x2="35.5" y2="616.0"/>
<line x1="57.5" y1="613.5" x2="57.5" y2="616.0"/>
<line x1="79.5" y1="613.5" x2="79.5" y2="616.0"/>
<line x1="101.5" y1="613.5" x2="101.5" y2="616.0"/>
<line x1="146.5" y1="613.5" x2="146.5" y2="616.0"/>
<line x1="168.5" y1="613.5" x2="168.5" y2="616.0"/>
<line x1="190.5" y1="613.5" x2="190.5" y2="616.0"/>
<line x1="230.5" y1="613.5" x2="230.5" y2="616.0"/>
<line x1="253.5" y1="613.5" x2="253.5" y2="616.0"/>
<line x1="275.5" y1="613.5" x2="275.5" y2="616.0"/>
<line x1="293.5" y1="613.5" x2="293.5" y2="616.0"/>
<line x1="311.5" y1="613.5" x2="311.5" y2="616.0"/>
<line x1="333.5" y1="613.5" x2="333.5" y2="616.0"/>
<line x1="355.5" y1="613.5" x2="355.5" y2="616.0"/>
<line x1="377.5" y1="613.5" x2="377.5" y2="616.0"/>
<line x1="422.5" y1="613.5" x2="422.5" y2="616.0"/>
<line x1="444.5" y1="613.5" x2="444.5" y2="616.0"/>
<line x1="466.5" y1="613.5" x2="466.5" y2="616.0"/>
<line x1="511.5" y1="613.5" x2="511.5" y2="616.0"/>
<line x1="533.5" y1="613.5" x2="533.5" y2="616.0"/>
<line x1="555.5" y1="613.5" x2="555.5" y2="616.0"/>
<line x1="577.5" y1="613.5" x2="577.5" y2="616.0"/>
<line x1="595.5" y1="613.5" x2="595.5" y2="616.0"/>
<line x1="618.5" y1="613.5" x2="618.5" y2="616.0"/>
<line x1="640.5" y1="613.5" x2="640.5" y2="616.0"/>
<line x1="662.5" y1="613.5" x2="662.5" y2="616.0"/>
<line x1="684.5" y1="613.5" x2="684.5" y2="616.0"/>
<line x1="707.5" y1="613.5" x2="707.5" y2="616.0"/>
<line x1="729.5" y1="613.5" x2="729.5" y2="616.0"/>
<line x1="751.5" y1="613.5" x2="751.5" y2="616.0"/>
<line x1="796.5" y1="613.5" x2="796.5" y2="616.0"/>
<line x1="21.5" y1="613.5" x2="21.5" y2="617.0" stroke="#909090"/>
<line x1="124.5" y1="613.5" x2="124.5" y2="617.0" stroke="#909090"/>
<line x1="213.5" y1="613.5" x2="213.5" y2="617.0" stroke="#909090"/>
<line x1="306.5" y1="613.5" x2="306.5" y2="617.0" stroke="#909090"/>
<line x1="400.5" y1="613.5" x2="400.5" y2="617.0" stroke="#909090"/>
<line x1="489.5" y1="613.5" x2="489.5" y2="617.0" stroke="#909090"/>
<line x1="586.5" y1="613.5" x2="586.5" y2="617.0" stroke="#909090"/>
<line x1="680.5" y1="613.5" x2="680.5" y2="617.0" stroke="#909090"/>
<line x1="773.5" y1="613.5" x2="773.5" y2="617.0" stroke="#909090"/>
</g>
<g font-size="9.8" fill="#000">
<text x="806.3" y="598.3">126</text>
<text x="806.3" y="580.1">127</text>
<text x="806.3" y="562.1">128</text>
<text x="806.3" y="544.2">129</text>
<text x="806.3" y="526.4">130</text>
<text x="806.3" y="508.8">131</text>
<text x="806.3" y="491.3">132</text>
<text x="806.3" y="474.0">133</text>
<text x="806.3" y="456.7">134</text>
<text x="806.3" y="439.6">135</text>
<text x="806.3" y="422.7">136</text>
<text x="806.3" y="405.8">137</text>
<text x="806.3" y="389.1">138</text>
<text x="806.3" y="372.5">139</text>
<text x="806.3" y="356.0">140</text>
<text x="806.3" y="339.6">141</text>
<text x="806.3" y="323.4">142</text>
<text x="806.3" y="307.3">143</text>
<text x="806.3" y="291.2">144</text>
<text x="806.3" y="275.3">145</text>
<text x="806.3" y="259.5">146</text>
<text x="806.3" y="243.8">147</text>
<text x="806.3" y="228.2">148</text>
<text x="806.3" y="212.8">149</text>
<text x="806.3" y="197.4">150</text>
<text x="806.3" y="51.3">90</text>
<text x="806.3" y="78.8">70</text>
<text x="806.3" y="133.9">30</text>
<text x="806.3" y="161.4">10</text>
</g>
<g font-size="9.8" fill="#000" text-anchor="middle">
<text x="21.5" y="624.6" font-weight="bold" font-size="10.2">Oct</text>
<text x="35.4" y="624.6">6</text>
<text x="57.5" y="624.6">13</text>
<text x="79.5" y="624.6">20</text>
<text x="101.7" y="624.6">27</text>
<text x="124.6" y="624.6" font-weight="bold" font-size="10.2">Nov</text>
<text x="146.4" y="624.6">10</text>
<text x="168.4" y="624.6">17</text>
<text x="190.7" y="624.6">24</text>
<text x="213.3" y="624.6" font-weight="bold" font-size="10.2">Dec</text>
<text x="230.7" y="624.6">8</text>
<text x="253.1" y="624.6">15</text>
<text x="275.5" y="624.6">22</text>
<text x="306.5" y="624.6" font-weight="bold" font-size="10.2">2015</text>
<text x="333.5" y="624.6">12</text>
<text x="355.5" y="624.6">19</text>
<text x="377.7" y="624.6">26</text>
<text x="400.7" y="624.6" font-weight="bold" font-size="10.2">Feb</text>
<text x="422.5" y="624.6">9</text>
<text x="444.5" y="624.6">16</text>
<text x="466.7" y="624.6">23</text>
<text x="489.3" y="624.6" font-weight="bold" font-size="10.2">Mar</text>
<text x="511.5" y="624.6">9</text>
<text x="533.4" y="624.6">16</text>
<text x="555.5" y="624.6">23</text>
<text x="586.5" y="624.6" font-weight="bold" font-size="10.2">Apr</text>
<text x="618.0" y="624.6">13</text>
<text x="640.0" y="624.6">20</text>
<text x="662.0" y="624.6">27</text>
<text x="681.5" y="624.6" font-weight="bold" font-size="10.2">May</text>
<text x="707.2" y="624.6">11</text>
<text x="729.4" y="624.6">18</text>
<text x="751.5" y="624.6">25</text>
<text x="773.6" y="624.6" font-weight="bold" font-size="10.2">Jun</text>
<text x="796.5" y="624.6">8</text>
</g>
<polygon points="800.3,401.8 804.6,396.7 838.3,396.7 838.3,406.9 804.6,406.9" fill="#fff" stroke="#b0204c" stroke-width="1.3" stroke-linejoin="miter"/>
<text x="806.0" y="405.4" font-size="10" textLength="29.099999999999998" lengthAdjust="spacingAndGlyphs">137.07</text>
<polygon points="800.3,502.3 804.6,497.2 838.3,497.2 838.3,507.4 804.6,507.4" fill="#fff" stroke="#1e6e28" stroke-width="1.3" stroke-linejoin="miter"/>
<text x="806.0" y="505.9" font-size="10" textLength="29.099999999999998" lengthAdjust="spacingAndGlyphs">131.21</text>
<polygon points="800.3,470.6 804.6,465.5 838.3,465.5 838.3,475.7 804.6,475.7" fill="#fff" stroke="#1c1c96" stroke-width="1.3" stroke-linejoin="miter"/>
<text x="806.0" y="474.2" font-size="10" textLength="29.099999999999998" lengthAdjust="spacingAndGlyphs">133.03</text>
<polygon points="800.3,464.3 804.6,459.2 839.5,459.2 839.5,469.4 804.6,469.4" fill="#fff" stroke="#000" stroke-width="1.6" stroke-linejoin="miter"/>
<text x="806.0" y="467.9" font-size="10.6" font-weight="bold" textLength="31.5" lengthAdjust="spacingAndGlyphs">133.41</text>
<polygon points="800.3,102.5 804.6,97.4 833.0,97.4 833.0,107.6 804.6,107.6" fill="#fff" stroke="#000" stroke-width="1.3" stroke-linejoin="miter"/>
<text x="806.0" y="106.1" font-size="10" textLength="23.8" lengthAdjust="spacingAndGlyphs">50.56</text>
<g font-size="14" font-weight="bold" fill="#262626">
<text x="191.3" y="415.6" textLength="111.3" lengthAdjust="spacingAndGlyphs">136.63 FIB 23.6%</text>
<text x="254.2" y="457.2" textLength="42.4" lengthAdjust="spacingAndGlyphs">133.88</text>
<text x="254.2" y="483.7" textLength="42.4" lengthAdjust="spacingAndGlyphs">132.38</text>
<text x="254.2" y="512.4" textLength="42.4" lengthAdjust="spacingAndGlyphs">130.78</text>
<text x="199.8" y="554.0" textLength="103.2" lengthAdjust="spacingAndGlyphs">128.4 FIB 38.2%</text>
<text x="254.2" y="584.8" textLength="42.4" lengthAdjust="spacingAndGlyphs">126.85</text>
</g>
<text x="524.4" y="186" textLength="42.8" lengthAdjust="spacingAndGlyphs" font-size="14" font-weight="bold" fill="#9a9a9a">150.83</text>
<rect x="21.3" y="39" width="79.7" height="51" fill="#6279bb" fill-opacity="0.97"/>
<line x1="21.3" y1="75.5" x2="101" y2="75.5" stroke="#52679f" stroke-width="1"/>
<polygon points="60.80,43.10 61.54,45.08 63.65,45.17 62.00,46.49 62.56,48.53 60.80,47.36 59.04,48.53 59.60,46.49 57.95,45.17 60.06,45.08" fill="#ffffff"/>
<polygon points="70.00,45.57 70.74,47.55 72.85,47.64 71.20,48.95 71.76,50.99 70.00,49.83 68.24,50.99 68.80,48.95 67.15,47.64 69.26,47.55" fill="#ffffff"/>
<polygon points="76.73,52.30 77.48,54.28 79.59,54.37 77.93,55.69 78.50,57.73 76.73,56.56 74.97,57.73 75.54,55.69 73.88,54.37 75.99,54.28" fill="#ffffff"/>
<polygon points="79.20,61.50 79.94,63.48 82.05,63.57 80.40,64.89 80.96,66.93 79.20,65.76 77.44,66.93 78.00,64.89 76.35,63.57 78.46,63.48" fill="#ffffff"/>
<polygon points="76.73,70.70 77.48,72.68 79.59,72.77 77.93,74.09 78.50,76.13 76.73,74.96 74.97,76.13 75.54,74.09 73.88,72.77 75.99,72.68" fill="#ffffff"/>
<polygon points="70.00,77.43 70.74,79.42 72.85,79.51 71.20,80.82 71.76,82.86 70.00,81.69 68.24,82.86 68.80,80.82 67.15,79.51 69.26,79.42" fill="#ffffff"/>
<polygon points="60.80,79.90 61.54,81.88 63.65,81.97 62.00,83.29 62.56,85.33 60.80,84.16 59.04,85.33 59.60,83.29 57.95,81.97 60.06,81.88" fill="#ffffff"/>
<polygon points="51.60,77.43 52.34,79.42 54.45,79.51 52.80,80.82 53.36,82.86 51.60,81.69 49.84,82.86 50.40,80.82 48.75,79.51 50.86,79.42" fill="#ffffff"/>
<polygon points="44.87,70.70 45.61,72.68 47.72,72.77 46.06,74.09 46.63,76.13 44.87,74.96 43.10,76.13 43.67,74.09 42.01,72.77 44.12,72.68" fill="#ffffff"/>
<polygon points="42.40,61.50 43.14,63.48 45.25,63.57 43.60,64.89 44.16,66.93 42.40,65.76 40.64,66.93 41.20,64.89 39.55,63.57 41.66,63.48" fill="#ffffff"/>
<polygon points="44.87,52.30 45.61,54.28 47.72,54.37 46.06,55.69 46.63,57.73 44.87,56.56 43.10,57.73 43.67,55.69 42.01,54.37 44.12,54.28" fill="#ffffff"/>
<polygon points="51.60,45.57 52.34,47.55 54.45,47.64 52.80,48.95 53.36,50.99 51.60,49.83 49.84,50.99 50.40,48.95 48.75,47.64 50.86,47.55" fill="#ffffff"/>
<rect x="21.3" y="90" width="79.7" height="39.5" fill="#ffffff" fill-opacity="0.88"/>
<circle cx="60.3" cy="112.6" r="17" fill="#e26a6a"/>
<clipPath id="disc"><circle cx="60.3" cy="112.6" r="17"/></clipPath>
<polyline clip-path="url(#disc)" points="35.9,110.8 41.9,118.0 46.0,112.0 51.5,121.6 56.3,118.7 62.3,124.7 67.8,117.5 76.6,114.4 80.2,108.4 85.0,114.4 89.8,118.7" fill="none" stroke="#b84848" stroke-width="1"/>
<text x="6.3" y="11.4" font-size="13.6" font-weight="bold" textLength="56.2" lengthAdjust="spacingAndGlyphs">$EURJPY</text>
<text x="66.3" y="11.5" font-size="10.8" textLength="138.8" lengthAdjust="spacingAndGlyphs">Euro to Japanese Yen (EOD)</text>
<text x="210.9" y="11.4" font-size="8.8" textLength="20.2" lengthAdjust="spacingAndGlyphs">INDX</text>
<text x="6.3" y="23.5" font-size="9.6" textLength="61.2" lengthAdjust="spacingAndGlyphs">25-May-2015</text>
<text x="713.2" y="10.6" font-size="10.8" fill="#555" textLength="88.8" lengthAdjust="spacingAndGlyphs">©StockCharts.com</text>
<text x="423.7" y="23.7" font-size="11.2" font-weight="bold" textLength="28.3" lengthAdjust="spacingAndGlyphs">Open</text>
<text x="457.0" y="23.7" font-size="10.5" textLength="31.0" lengthAdjust="spacingAndGlyphs">133.65</text>
<text x="494.5" y="23.7" font-size="11.2" font-weight="bold" textLength="23.5" lengthAdjust="spacingAndGlyphs">High</text>
<text x="523.0" y="23.7" font-size="10.5" textLength="31.3" lengthAdjust="spacingAndGlyphs">133.83</text>
<text x="560.7" y="23.7" font-size="11.2" font-weight="bold" textLength="23.0" lengthAdjust="spacingAndGlyphs">Low</text>
<text x="588.8" y="23.7" font-size="10.5" textLength="30.8" lengthAdjust="spacingAndGlyphs">133.21</text>
<text x="627.0" y="23.7" font-size="11.2" font-weight="bold" textLength="31.0" lengthAdjust="spacingAndGlyphs">Close</text>
<text x="663.0" y="23.7" font-size="10.5" textLength="30.8" lengthAdjust="spacingAndGlyphs">133.41</text>
<text x="700.5" y="23.7" font-size="11.2" font-weight="bold" textLength="21.5" lengthAdjust="spacingAndGlyphs">Chg</text>
<text x="726.3" y="23.7" font-size="10.5" textLength="66.3" lengthAdjust="spacingAndGlyphs">-0.46 (-0.34%)</text>
<polygon points="794.8,18.9 800.8,18.9 797.8,22.3" fill="#9b1111"/>
</svg></body></html>
